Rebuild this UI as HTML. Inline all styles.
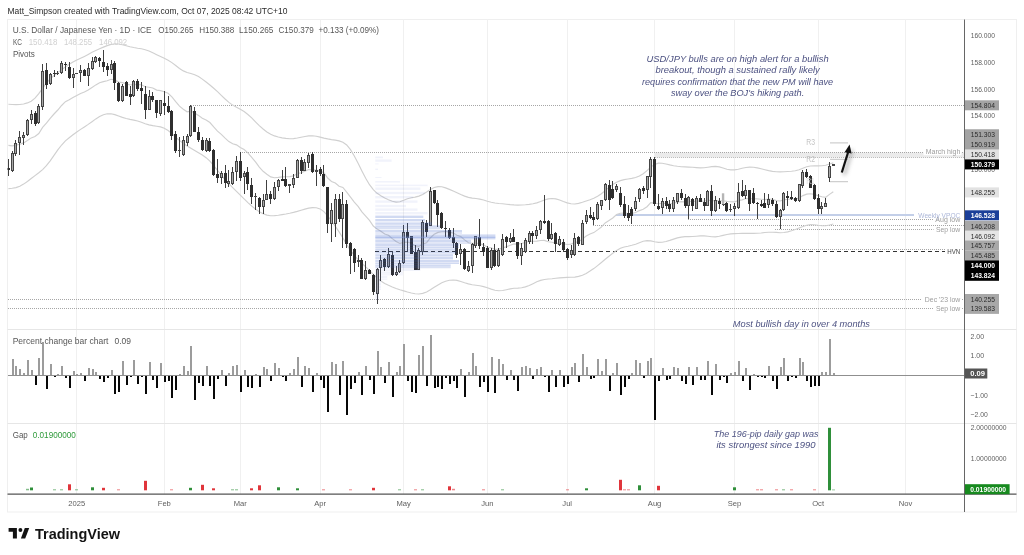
<!DOCTYPE html><html><head><meta charset="utf-8"><style>html,body{margin:0;padding:0;background:#fff;width:1024px;height:555px;overflow:hidden}svg{display:block}text{font-family:"Liberation Sans", Arial, sans-serif}</style></head><body>
<svg width="1024" height="555" viewBox="0 0 1024 555">
<rect width="1024" height="555" fill="#fff"/>
<text x="7.5" y="13.6" font-size="8.6" fill="#2a2a2a" textLength="280" lengthAdjust="spacingAndGlyphs">Matt_Simpson created with TradingView.com, Oct 07, 2025 08:42 UTC+10</text>
<rect x="7.5" y="19.5" width="1009.0" height="492.5" fill="none" stroke="#efefef" stroke-width="1"/>
<line x1="76.5" y1="19.5" x2="76.5" y2="494.2" stroke="#f0f0f0" stroke-width="1"/>
<line x1="164.5" y1="19.5" x2="164.5" y2="494.2" stroke="#f0f0f0" stroke-width="1"/>
<line x1="240.5" y1="19.5" x2="240.5" y2="494.2" stroke="#f0f0f0" stroke-width="1"/>
<line x1="320.5" y1="19.5" x2="320.5" y2="494.2" stroke="#f0f0f0" stroke-width="1"/>
<line x1="403.5" y1="19.5" x2="403.5" y2="494.2" stroke="#f0f0f0" stroke-width="1"/>
<line x1="487.5" y1="19.5" x2="487.5" y2="494.2" stroke="#f0f0f0" stroke-width="1"/>
<line x1="567.5" y1="19.5" x2="567.5" y2="494.2" stroke="#f0f0f0" stroke-width="1"/>
<line x1="654.5" y1="19.5" x2="654.5" y2="494.2" stroke="#f0f0f0" stroke-width="1"/>
<line x1="734.5" y1="19.5" x2="734.5" y2="494.2" stroke="#f0f0f0" stroke-width="1"/>
<line x1="818.5" y1="19.5" x2="818.5" y2="494.2" stroke="#f0f0f0" stroke-width="1"/>
<line x1="905.5" y1="19.5" x2="905.5" y2="494.2" stroke="#f0f0f0" stroke-width="1"/>
<line x1="7.5" y1="329.5" x2="1016.5" y2="329.5" stroke="#e6e6e6" stroke-width="1"/>
<line x1="7.5" y1="423.5" x2="1016.5" y2="423.5" stroke="#e6e6e6" stroke-width="1"/>
<defs><clipPath id="cm"><rect x="7.5" y="20" width="957" height="309"/></clipPath><filter id="blur1" x="-50%" y="-50%" width="200%" height="200%"><feGaussianBlur stdDeviation="2"/></filter></defs>
<g clip-path="url(#cm)">
<rect x="655" y="152.5" width="310" height="5" fill="#ebebeb"/>
<line x1="191" y1="105.5" x2="964" y2="105.5" stroke="#a6a6a6" stroke-width="1" stroke-dasharray="1 1"/>
<line x1="240" y1="152.5" x2="964" y2="152.5" stroke="#a6a6a6" stroke-width="1" stroke-dasharray="1 1"/>
<line x1="655" y1="157.5" x2="964" y2="157.5" stroke="#bdbdbd" stroke-width="1" stroke-dasharray="1 1"/>
<line x1="8" y1="299.5" x2="964" y2="299.5" stroke="#a6a6a6" stroke-width="1" stroke-dasharray="1 1"/>
<line x1="8" y1="308.5" x2="964" y2="308.5" stroke="#a6a6a6" stroke-width="1" stroke-dasharray="1 1"/>
<line x1="688" y1="219.5" x2="934" y2="219.5" stroke="#a6a6a6" stroke-width="1" stroke-dasharray="1 1"/>
<line x1="593" y1="225.5" x2="964" y2="225.5" stroke="#a6a6a6" stroke-width="1" stroke-dasharray="1 1"/>
<line x1="775" y1="229.5" x2="934" y2="229.5" stroke="#a6a6a6" stroke-width="1" stroke-dasharray="1 1"/>
<line x1="668" y1="249.5" x2="964" y2="249.5" stroke="#a6a6a6" stroke-width="1" stroke-dasharray="1 1"/>
<line x1="375" y1="251.5" x2="945" y2="251.5" stroke="#333" stroke-width="1" stroke-dasharray="4 3"/>
<line x1="616" y1="214.9" x2="914" y2="214.9" stroke="#c3cfe8" stroke-width="2"/>
<g fill="none" stroke="#d0d0d0" stroke-width="1.15">
<polyline points="8.4,104.3 12.2,104.5 16.0,104.6 19.8,104.5 23.6,104.0 27.4,102.9 31.2,101.2 35.0,98.2 38.8,93.7 42.6,88.3 46.4,83.0 50.2,78.8 54.0,75.5 57.8,72.6 61.6,69.8 65.4,66.9 69.2,64.3 73.0,62.1 76.8,60.1 80.6,58.3 84.4,56.4 88.2,54.4 92.0,52.3 95.8,50.5 99.6,48.7 103.4,47.1 107.2,45.6 111.0,44.5 114.8,43.9 118.6,44.0 122.4,44.7 126.2,45.7 130.0,46.7 133.8,47.5 137.6,48.2 141.4,48.8 145.2,49.7 149.0,51.0 152.8,52.8 156.7,54.7 160.5,56.5 164.3,58.3 168.1,60.2 171.9,62.6 175.7,65.5 179.5,68.5 183.3,70.9 187.1,72.5 190.9,73.5 194.7,74.7 198.5,76.6 202.3,79.1 206.1,82.0 209.9,85.0 213.7,88.2 217.5,91.6 221.3,95.3 225.1,99.0 228.9,102.4 232.7,105.1 236.5,107.3 240.3,109.3 244.1,111.6 247.9,114.5 251.7,117.9 255.5,121.8 259.3,125.6 263.1,129.0 266.9,131.9 270.7,134.2 274.5,135.9 278.3,137.0 282.1,137.9 285.9,138.4 289.7,138.7 293.5,138.6 297.3,138.0 301.1,137.2 304.9,136.5 308.7,135.9 312.5,135.8 316.3,136.2 320.1,137.1 323.9,138.1 327.7,138.9 331.5,139.6 335.3,140.1 339.1,140.9 342.9,142.2 346.7,145.0 350.5,149.6 354.3,156.0 358.1,163.3 361.9,170.9 365.7,178.2 369.5,184.7 373.3,189.7 377.1,193.3 380.9,195.8 384.7,197.9 388.5,199.7 392.3,201.2 396.1,202.1 399.9,201.7 403.7,200.3 407.5,198.8 411.3,197.7 415.1,197.1 418.9,196.1 422.7,194.4 426.6,192.0 430.4,189.5 434.2,187.5 438.0,186.6 441.8,186.8 445.6,187.9 449.4,189.4 453.2,191.1 457.0,192.8 460.8,194.5 464.6,196.1 468.4,197.4 472.2,198.1 476.0,198.5 479.8,199.1 483.6,200.0 487.4,201.2 491.2,202.2 495.0,203.0 498.8,203.5 502.6,203.8 506.4,204.2 510.2,204.6 514.0,204.9 517.8,205.1 521.6,205.0 525.4,204.8 529.2,204.4 533.0,203.8 536.8,202.9 540.6,201.5 544.4,200.0 548.2,198.9 552.0,198.5 555.8,198.9 559.6,200.0 563.4,201.5 567.2,202.9 571.0,203.8 574.8,204.0 578.6,203.4 582.4,202.3 586.2,201.0 590.0,199.7 593.8,198.2 597.6,196.3 601.4,193.7 605.2,190.6 609.0,187.4 612.8,184.5 616.6,182.2 620.4,180.6 624.2,179.6 628.0,179.0 631.8,178.4 635.6,177.5 639.4,176.0 643.2,173.8 647.0,170.6 650.8,167.1 654.6,164.4 658.4,163.1 662.2,163.2 666.0,164.0 669.8,164.9 673.6,165.7 677.4,166.3 681.2,166.7 685.0,166.9 688.8,167.1 692.6,167.3 696.4,167.6 700.3,167.9 704.1,167.8 707.9,167.2 711.7,166.6 715.5,166.4 719.3,166.9 723.1,168.0 726.9,169.2 730.7,169.9 734.5,169.9 738.3,169.2 742.1,168.3 745.9,167.5 749.7,167.2 753.5,167.3 757.3,167.9 761.1,168.8 764.9,169.7 768.7,170.6 772.5,171.4 776.3,171.8 780.1,171.9 783.9,171.7 787.7,171.5 791.5,171.3 795.3,170.8 799.1,169.7 802.9,168.2 806.7,166.8 810.5,166.0 814.3,165.8 818.1,165.9 821.9,165.8 825.7,165.2 829.5,164.0 833.3,162.9"/>
<polyline points="8.4,145.4 12.2,145.8 16.0,145.2 19.8,144.1 23.6,142.9 27.4,140.5 31.2,137.9 35.0,136.5 38.8,133.5 42.6,127.4 46.4,123.2 50.2,118.3 54.0,114.0 57.8,110.0 61.6,105.5 65.4,101.7 69.2,99.7 73.0,97.5 76.8,95.5 80.6,93.4 84.4,92.0 88.2,90.0 92.0,87.5 95.8,84.9 99.6,82.8 103.4,81.6 107.2,80.7 111.0,79.3 114.8,79.9 118.6,82.1 122.4,82.6 126.2,83.8 130.0,85.0 133.8,84.4 137.6,84.6 141.4,84.8 145.2,86.8 149.0,87.2 152.8,88.0 156.7,90.1 160.5,90.6 164.3,91.8 168.1,93.3 171.9,96.9 175.7,101.7 179.5,106.1 183.3,109.2 187.1,111.8 190.9,111.2 194.7,113.0 198.5,115.4 202.3,118.3 206.1,120.1 209.9,122.5 213.7,126.9 217.5,131.1 221.3,134.4 225.1,138.2 228.9,141.6 232.7,143.8 236.5,144.9 240.3,147.5 244.1,149.5 247.9,152.8 251.7,157.3 255.5,161.8 259.3,167.1 263.1,171.3 266.9,174.2 270.7,176.9 274.5,177.7 278.3,177.4 282.1,176.9 285.9,176.8 289.7,176.6 293.5,175.9 297.3,173.6 301.1,172.8 304.9,171.3 308.7,169.6 312.5,169.8 316.3,170.1 320.1,170.9 323.9,172.8 327.7,178.0 331.5,181.4 335.3,183.1 339.1,186.3 342.9,187.5 346.7,192.1 350.5,197.2 354.3,202.2 358.1,206.4 361.9,211.9 365.7,216.1 369.5,220.4 373.3,226.0 377.1,229.1 380.9,231.2 384.7,234.0 388.5,235.3 392.3,238.6 396.1,241.5 399.9,243.4 403.7,242.4 407.5,242.1 411.3,243.3 415.1,245.9 418.9,246.4 422.7,244.0 426.6,242.7 430.4,237.7 434.2,234.3 438.0,232.4 441.8,231.8 445.6,231.5 449.4,232.1 453.2,233.1 457.0,235.2 460.8,236.6 464.6,239.9 468.4,242.7 472.2,243.2 476.0,243.0 479.8,243.7 483.6,244.9 487.4,247.3 491.2,247.7 495.0,249.4 498.8,249.2 502.6,247.9 506.4,246.8 510.2,245.2 514.0,243.9 517.8,244.1 521.6,243.5 525.4,242.5 529.2,241.3 533.0,241.2 536.8,241.1 540.6,240.5 544.4,240.4 548.2,241.8 552.0,242.2 555.8,243.3 559.6,243.3 563.4,243.8 567.2,244.5 571.0,244.1 574.8,242.5 578.6,241.6 582.4,239.0 586.2,236.1 590.0,234.0 593.8,232.6 597.6,229.9 601.4,227.0 605.2,222.9 609.0,220.5 612.8,218.0 616.6,214.5 620.4,213.2 624.2,213.0 628.0,213.3 631.8,213.5 635.6,212.5 639.4,210.6 643.2,209.3 647.0,206.7 650.8,202.6 654.6,203.1 658.4,203.7 662.2,203.4 666.0,203.5 669.8,203.8 673.6,203.3 677.4,202.2 681.2,201.6 685.0,201.9 688.8,201.3 692.6,201.6 696.4,201.1 700.3,200.9 704.1,201.2 707.9,200.0 711.7,200.8 715.5,200.5 719.3,200.6 723.1,200.7 726.9,201.4 730.7,201.8 734.5,201.9 738.3,200.6 742.1,199.9 745.9,198.5 749.7,198.7 753.5,198.8 757.3,198.9 761.1,199.2 764.9,199.6 768.7,199.2 772.5,199.3 776.3,200.6 780.1,201.0 783.9,199.9 787.7,199.3 791.5,199.1 795.3,199.2 799.1,197.9 802.9,195.6 806.7,194.1 810.5,193.8 814.3,194.4 818.1,195.8 821.9,196.7 825.7,197.3 829.5,194.4 833.3,191.7"/>
<polyline points="8.4,188.6 12.2,188.3 16.0,187.6 19.8,186.2 23.6,184.1 27.4,181.5 31.2,178.5 35.0,175.6 38.8,172.7 42.6,169.6 46.4,165.7 50.2,160.8 54.0,155.4 57.8,149.9 61.6,145.0 65.4,140.9 69.2,137.7 73.0,134.8 76.8,132.0 80.6,129.4 84.4,126.9 88.2,124.4 92.0,121.7 95.8,118.9 99.6,116.5 103.4,114.7 107.2,113.8 111.0,113.8 114.8,114.6 118.6,116.0 122.4,117.4 126.2,118.5 130.0,119.4 133.8,120.1 137.6,121.0 141.4,122.3 145.2,123.7 149.0,124.9 152.8,125.6 156.7,126.2 160.5,126.9 164.3,128.3 168.1,130.5 171.9,133.6 175.7,137.1 179.5,140.5 183.3,143.4 187.1,145.9 190.9,148.2 194.7,150.5 198.5,152.7 202.3,155.0 206.1,157.7 209.9,161.2 213.7,165.6 217.5,170.4 221.3,175.1 225.1,179.6 228.9,183.7 232.7,187.6 236.5,191.4 240.3,195.2 244.1,198.9 247.9,202.6 251.7,206.0 255.5,209.1 259.3,211.7 263.1,213.8 266.9,215.1 270.7,215.7 274.5,215.6 278.3,215.2 282.1,214.6 285.9,214.0 289.7,213.3 293.5,212.4 297.3,211.4 301.1,210.2 304.9,209.1 308.7,208.1 312.5,207.6 316.3,207.7 320.1,208.9 323.9,211.6 327.7,215.9 331.5,221.0 335.3,226.3 339.1,231.9 342.9,238.0 346.7,244.4 350.5,250.3 354.3,255.4 358.1,259.6 361.9,263.4 365.7,266.9 369.5,270.5 373.3,274.3 377.1,277.9 380.9,281.0 384.7,283.4 388.5,285.3 392.3,287.0 396.1,288.5 399.9,289.8 403.7,290.9 407.5,292.0 411.3,293.0 415.1,293.8 418.9,294.0 422.7,293.4 426.6,292.0 430.4,289.8 434.2,287.3 438.0,284.9 441.8,282.8 445.6,281.2 449.4,280.2 453.2,280.0 457.0,280.4 460.8,281.5 464.6,282.8 468.4,283.9 472.2,284.7 476.0,285.2 479.8,285.7 483.6,286.6 487.4,287.8 491.2,289.1 495.0,290.2 498.8,290.7 502.6,290.5 506.4,289.7 510.2,288.9 514.0,288.3 517.8,288.1 521.6,287.8 525.4,286.9 529.2,285.5 533.0,283.7 536.8,281.8 540.6,280.4 544.4,279.5 548.2,279.0 552.0,278.7 555.8,278.3 559.6,277.9 563.4,277.6 567.2,277.4 571.0,277.3 574.8,277.1 578.6,276.4 582.4,275.2 586.2,273.4 590.0,271.1 593.8,268.6 597.6,265.6 601.4,262.5 605.2,259.3 609.0,256.2 612.8,253.2 616.6,250.4 620.4,248.3 624.2,247.0 628.0,246.2 631.8,245.3 635.6,244.2 639.4,242.7 643.2,241.3 647.0,240.6 650.8,240.9 654.6,241.8 658.4,242.4 662.2,242.2 666.0,241.5 669.8,240.4 673.6,239.1 677.4,237.9 681.2,237.1 685.0,236.6 688.8,236.6 692.6,236.5 696.4,236.2 700.3,235.9 704.1,235.9 707.9,236.2 711.7,236.7 715.5,236.8 719.3,236.3 723.1,235.4 726.9,234.5 730.7,233.9 734.5,233.6 738.3,233.5 742.1,233.4 745.9,233.3 749.7,233.4 753.5,233.4 757.3,233.3 761.1,233.0 764.9,232.5 768.7,232.2 772.5,232.2 776.3,232.4 780.1,232.7 783.9,232.5 787.7,231.9 791.5,230.8 795.3,229.5 799.1,228.0 802.9,226.5 806.7,225.3 810.5,224.7 814.3,224.8 818.1,225.3 821.9,225.7 825.7,225.7 829.5,225.0 833.3,224.0"/>
</g>
<line x1="8.5" y1="159" x2="8.5" y2="176" stroke="#404040" stroke-width="1"/>
<line x1="12.5" y1="151" x2="12.5" y2="172" stroke="#404040" stroke-width="1"/>
<line x1="15.5" y1="140" x2="15.5" y2="156" stroke="#404040" stroke-width="1"/>
<line x1="19.5" y1="131" x2="19.5" y2="155" stroke="#404040" stroke-width="1"/>
<line x1="23.5" y1="132" x2="23.5" y2="145" stroke="#404040" stroke-width="1"/>
<line x1="27.5" y1="119" x2="27.5" y2="136" stroke="#404040" stroke-width="1"/>
<line x1="31.5" y1="110" x2="31.5" y2="124" stroke="#404040" stroke-width="1"/>
<line x1="35.5" y1="111" x2="35.5" y2="126" stroke="#404040" stroke-width="1"/>
<line x1="38.5" y1="104" x2="38.5" y2="124" stroke="#404040" stroke-width="1"/>
<line x1="42.5" y1="64" x2="42.5" y2="110" stroke="#404040" stroke-width="1"/>
<line x1="46.5" y1="63" x2="46.5" y2="89" stroke="#404040" stroke-width="1"/>
<line x1="50.5" y1="73" x2="50.5" y2="85" stroke="#404040" stroke-width="1"/>
<line x1="54.5" y1="70" x2="54.5" y2="77" stroke="#404040" stroke-width="1"/>
<line x1="57.5" y1="71" x2="57.5" y2="75" stroke="#404040" stroke-width="1"/>
<line x1="61.5" y1="61" x2="61.5" y2="74" stroke="#404040" stroke-width="1"/>
<line x1="65.5" y1="62" x2="65.5" y2="71" stroke="#404040" stroke-width="1"/>
<line x1="69.5" y1="62" x2="69.5" y2="79" stroke="#404040" stroke-width="1"/>
<line x1="73.5" y1="68" x2="73.5" y2="88" stroke="#404040" stroke-width="1"/>
<line x1="76.5" y1="73" x2="76.5" y2="74" stroke="#404040" stroke-width="1"/>
<line x1="80.5" y1="65" x2="80.5" y2="82" stroke="#404040" stroke-width="1"/>
<line x1="84.5" y1="69" x2="84.5" y2="76" stroke="#404040" stroke-width="1"/>
<line x1="88.5" y1="63" x2="88.5" y2="86" stroke="#404040" stroke-width="1"/>
<line x1="92.5" y1="57" x2="92.5" y2="70" stroke="#404040" stroke-width="1"/>
<line x1="95.5" y1="56" x2="95.5" y2="63" stroke="#404040" stroke-width="1"/>
<line x1="99.5" y1="57" x2="99.5" y2="67" stroke="#404040" stroke-width="1"/>
<line x1="103.5" y1="50" x2="103.5" y2="72" stroke="#404040" stroke-width="1"/>
<line x1="107.5" y1="63" x2="107.5" y2="76" stroke="#404040" stroke-width="1"/>
<line x1="111.5" y1="60" x2="111.5" y2="74" stroke="#404040" stroke-width="1"/>
<line x1="114.5" y1="61" x2="114.5" y2="90" stroke="#404040" stroke-width="1"/>
<line x1="118.5" y1="82" x2="118.5" y2="102" stroke="#404040" stroke-width="1"/>
<line x1="122.5" y1="84" x2="122.5" y2="102" stroke="#404040" stroke-width="1"/>
<line x1="126.5" y1="81" x2="126.5" y2="96" stroke="#404040" stroke-width="1"/>
<line x1="130.5" y1="86" x2="130.5" y2="105" stroke="#404040" stroke-width="1"/>
<line x1="133.5" y1="80" x2="133.5" y2="97" stroke="#404040" stroke-width="1"/>
<line x1="137.5" y1="79" x2="137.5" y2="91" stroke="#404040" stroke-width="1"/>
<line x1="141.5" y1="82" x2="141.5" y2="104" stroke="#404040" stroke-width="1"/>
<line x1="145.5" y1="86" x2="145.5" y2="119" stroke="#404040" stroke-width="1"/>
<line x1="149.5" y1="90" x2="149.5" y2="110" stroke="#404040" stroke-width="1"/>
<line x1="152.5" y1="92" x2="152.5" y2="102" stroke="#404040" stroke-width="1"/>
<line x1="156.5" y1="100" x2="156.5" y2="118" stroke="#404040" stroke-width="1"/>
<line x1="160.5" y1="100" x2="160.5" y2="116" stroke="#404040" stroke-width="1"/>
<line x1="164.5" y1="91" x2="164.5" y2="115" stroke="#404040" stroke-width="1"/>
<line x1="168.5" y1="96" x2="168.5" y2="113" stroke="#404040" stroke-width="1"/>
<line x1="171.5" y1="110" x2="171.5" y2="140" stroke="#404040" stroke-width="1"/>
<line x1="175.5" y1="131" x2="175.5" y2="153" stroke="#404040" stroke-width="1"/>
<line x1="179.5" y1="137" x2="179.5" y2="157" stroke="#404040" stroke-width="1"/>
<line x1="183.5" y1="136" x2="183.5" y2="156" stroke="#404040" stroke-width="1"/>
<line x1="187.5" y1="134" x2="187.5" y2="146" stroke="#404040" stroke-width="1"/>
<line x1="190.5" y1="105" x2="190.5" y2="137" stroke="#404040" stroke-width="1"/>
<line x1="194.5" y1="107" x2="194.5" y2="132" stroke="#404040" stroke-width="1"/>
<line x1="198.5" y1="127" x2="198.5" y2="142" stroke="#404040" stroke-width="1"/>
<line x1="202.5" y1="137" x2="202.5" y2="151" stroke="#404040" stroke-width="1"/>
<line x1="206.5" y1="138" x2="206.5" y2="152" stroke="#404040" stroke-width="1"/>
<line x1="209.5" y1="138" x2="209.5" y2="152" stroke="#404040" stroke-width="1"/>
<line x1="213.5" y1="149" x2="213.5" y2="176" stroke="#404040" stroke-width="1"/>
<line x1="217.5" y1="159" x2="217.5" y2="183" stroke="#404040" stroke-width="1"/>
<line x1="221.5" y1="171" x2="221.5" y2="184" stroke="#404040" stroke-width="1"/>
<line x1="225.5" y1="165" x2="225.5" y2="188" stroke="#404040" stroke-width="1"/>
<line x1="228.5" y1="170" x2="228.5" y2="187" stroke="#404040" stroke-width="1"/>
<line x1="232.5" y1="167" x2="232.5" y2="185" stroke="#404040" stroke-width="1"/>
<line x1="236.5" y1="156" x2="236.5" y2="181" stroke="#404040" stroke-width="1"/>
<line x1="240.5" y1="152" x2="240.5" y2="181" stroke="#404040" stroke-width="1"/>
<line x1="244.5" y1="171" x2="244.5" y2="194" stroke="#404040" stroke-width="1"/>
<line x1="247.5" y1="167" x2="247.5" y2="190" stroke="#404040" stroke-width="1"/>
<line x1="251.5" y1="178" x2="251.5" y2="204" stroke="#404040" stroke-width="1"/>
<line x1="255.5" y1="193" x2="255.5" y2="210" stroke="#404040" stroke-width="1"/>
<line x1="259.5" y1="197" x2="259.5" y2="214" stroke="#404040" stroke-width="1"/>
<line x1="263.5" y1="194" x2="263.5" y2="214" stroke="#404040" stroke-width="1"/>
<line x1="266.5" y1="180" x2="266.5" y2="200" stroke="#404040" stroke-width="1"/>
<line x1="270.5" y1="191" x2="270.5" y2="204" stroke="#404040" stroke-width="1"/>
<line x1="274.5" y1="182" x2="274.5" y2="200" stroke="#404040" stroke-width="1"/>
<line x1="278.5" y1="179" x2="278.5" y2="191" stroke="#404040" stroke-width="1"/>
<line x1="282.5" y1="170" x2="282.5" y2="181" stroke="#404040" stroke-width="1"/>
<line x1="285.5" y1="167" x2="285.5" y2="187" stroke="#404040" stroke-width="1"/>
<line x1="289.5" y1="184" x2="289.5" y2="193" stroke="#404040" stroke-width="1"/>
<line x1="293.5" y1="174" x2="293.5" y2="188" stroke="#404040" stroke-width="1"/>
<line x1="297.5" y1="159" x2="297.5" y2="178" stroke="#404040" stroke-width="1"/>
<line x1="301.5" y1="157" x2="301.5" y2="174" stroke="#404040" stroke-width="1"/>
<line x1="304.5" y1="159" x2="304.5" y2="171" stroke="#404040" stroke-width="1"/>
<line x1="308.5" y1="153" x2="308.5" y2="168" stroke="#404040" stroke-width="1"/>
<line x1="312.5" y1="152" x2="312.5" y2="173" stroke="#404040" stroke-width="1"/>
<line x1="316.5" y1="165" x2="316.5" y2="186" stroke="#404040" stroke-width="1"/>
<line x1="320.5" y1="167" x2="320.5" y2="176" stroke="#404040" stroke-width="1"/>
<line x1="323.5" y1="165" x2="323.5" y2="187" stroke="#404040" stroke-width="1"/>
<line x1="327.5" y1="187" x2="327.5" y2="233" stroke="#404040" stroke-width="1"/>
<line x1="331.5" y1="203" x2="331.5" y2="242" stroke="#404040" stroke-width="1"/>
<line x1="335.5" y1="194" x2="335.5" y2="237" stroke="#404040" stroke-width="1"/>
<line x1="339.5" y1="194" x2="339.5" y2="222" stroke="#404040" stroke-width="1"/>
<line x1="342.5" y1="192" x2="342.5" y2="248" stroke="#404040" stroke-width="1"/>
<line x1="346.5" y1="200" x2="346.5" y2="248" stroke="#404040" stroke-width="1"/>
<line x1="350.5" y1="242" x2="350.5" y2="274" stroke="#404040" stroke-width="1"/>
<line x1="354.5" y1="248" x2="354.5" y2="272" stroke="#404040" stroke-width="1"/>
<line x1="358.5" y1="255" x2="358.5" y2="267" stroke="#404040" stroke-width="1"/>
<line x1="361.5" y1="258" x2="361.5" y2="279" stroke="#404040" stroke-width="1"/>
<line x1="365.5" y1="261" x2="365.5" y2="280" stroke="#404040" stroke-width="1"/>
<line x1="369.5" y1="269" x2="369.5" y2="274" stroke="#404040" stroke-width="1"/>
<line x1="373.5" y1="274" x2="373.5" y2="295" stroke="#404040" stroke-width="1"/>
<line x1="377.5" y1="268" x2="377.5" y2="304" stroke="#404040" stroke-width="1"/>
<line x1="380.5" y1="255" x2="380.5" y2="281" stroke="#404040" stroke-width="1"/>
<line x1="384.5" y1="258" x2="384.5" y2="271" stroke="#404040" stroke-width="1"/>
<line x1="388.5" y1="248" x2="388.5" y2="268" stroke="#404040" stroke-width="1"/>
<line x1="392.5" y1="251" x2="392.5" y2="276" stroke="#404040" stroke-width="1"/>
<line x1="396.5" y1="266" x2="396.5" y2="276" stroke="#404040" stroke-width="1"/>
<line x1="399.5" y1="260" x2="399.5" y2="273" stroke="#404040" stroke-width="1"/>
<line x1="403.5" y1="225" x2="403.5" y2="264" stroke="#404040" stroke-width="1"/>
<line x1="407.5" y1="223" x2="407.5" y2="252" stroke="#404040" stroke-width="1"/>
<line x1="411.5" y1="236" x2="411.5" y2="254" stroke="#404040" stroke-width="1"/>
<line x1="415.5" y1="245" x2="415.5" y2="270" stroke="#404040" stroke-width="1"/>
<line x1="418.5" y1="248" x2="418.5" y2="270" stroke="#404040" stroke-width="1"/>
<line x1="422.5" y1="220" x2="422.5" y2="255" stroke="#404040" stroke-width="1"/>
<line x1="426.5" y1="220" x2="426.5" y2="237" stroke="#404040" stroke-width="1"/>
<line x1="430.5" y1="187" x2="430.5" y2="226" stroke="#404040" stroke-width="1"/>
<line x1="434.5" y1="190" x2="434.5" y2="204" stroke="#404040" stroke-width="1"/>
<line x1="437.5" y1="200" x2="437.5" y2="227" stroke="#404040" stroke-width="1"/>
<line x1="441.5" y1="212" x2="441.5" y2="229" stroke="#404040" stroke-width="1"/>
<line x1="445.5" y1="221" x2="445.5" y2="237" stroke="#404040" stroke-width="1"/>
<line x1="449.5" y1="228" x2="449.5" y2="239" stroke="#404040" stroke-width="1"/>
<line x1="453.5" y1="228" x2="453.5" y2="248" stroke="#404040" stroke-width="1"/>
<line x1="456.5" y1="242" x2="456.5" y2="258" stroke="#404040" stroke-width="1"/>
<line x1="460.5" y1="244" x2="460.5" y2="265" stroke="#404040" stroke-width="1"/>
<line x1="464.5" y1="248" x2="464.5" y2="270" stroke="#404040" stroke-width="1"/>
<line x1="468.5" y1="261" x2="468.5" y2="272" stroke="#404040" stroke-width="1"/>
<line x1="472.5" y1="243" x2="472.5" y2="273" stroke="#404040" stroke-width="1"/>
<line x1="475.5" y1="236" x2="475.5" y2="248" stroke="#404040" stroke-width="1"/>
<line x1="479.5" y1="219" x2="479.5" y2="249" stroke="#404040" stroke-width="1"/>
<line x1="483.5" y1="243" x2="483.5" y2="256" stroke="#404040" stroke-width="1"/>
<line x1="487.5" y1="246" x2="487.5" y2="268" stroke="#404040" stroke-width="1"/>
<line x1="491.5" y1="248" x2="491.5" y2="270" stroke="#404040" stroke-width="1"/>
<line x1="494.5" y1="244" x2="494.5" y2="267" stroke="#404040" stroke-width="1"/>
<line x1="498.5" y1="248" x2="498.5" y2="267" stroke="#404040" stroke-width="1"/>
<line x1="502.5" y1="234" x2="502.5" y2="256" stroke="#404040" stroke-width="1"/>
<line x1="506.5" y1="236" x2="506.5" y2="248" stroke="#404040" stroke-width="1"/>
<line x1="510.5" y1="233" x2="510.5" y2="243" stroke="#404040" stroke-width="1"/>
<line x1="513.5" y1="229" x2="513.5" y2="242" stroke="#404040" stroke-width="1"/>
<line x1="517.5" y1="242" x2="517.5" y2="259" stroke="#404040" stroke-width="1"/>
<line x1="521.5" y1="243" x2="521.5" y2="265" stroke="#404040" stroke-width="1"/>
<line x1="525.5" y1="238" x2="525.5" y2="253" stroke="#404040" stroke-width="1"/>
<line x1="529.5" y1="231" x2="529.5" y2="244" stroke="#404040" stroke-width="1"/>
<line x1="532.5" y1="231" x2="532.5" y2="244" stroke="#404040" stroke-width="1"/>
<line x1="536.5" y1="226" x2="536.5" y2="239" stroke="#404040" stroke-width="1"/>
<line x1="540.5" y1="220" x2="540.5" y2="234" stroke="#404040" stroke-width="1"/>
<line x1="544.5" y1="195" x2="544.5" y2="224" stroke="#404040" stroke-width="1"/>
<line x1="548.5" y1="220" x2="548.5" y2="241" stroke="#404040" stroke-width="1"/>
<line x1="551.5" y1="223" x2="551.5" y2="240" stroke="#404040" stroke-width="1"/>
<line x1="555.5" y1="232" x2="555.5" y2="252" stroke="#404040" stroke-width="1"/>
<line x1="559.5" y1="236" x2="559.5" y2="246" stroke="#404040" stroke-width="1"/>
<line x1="563.5" y1="239" x2="563.5" y2="252" stroke="#404040" stroke-width="1"/>
<line x1="567.5" y1="248" x2="567.5" y2="260" stroke="#404040" stroke-width="1"/>
<line x1="571.5" y1="245" x2="571.5" y2="258" stroke="#404040" stroke-width="1"/>
<line x1="574.5" y1="233" x2="574.5" y2="256" stroke="#404040" stroke-width="1"/>
<line x1="578.5" y1="236" x2="578.5" y2="246" stroke="#404040" stroke-width="1"/>
<line x1="582.5" y1="220" x2="582.5" y2="245" stroke="#404040" stroke-width="1"/>
<line x1="586.5" y1="210" x2="586.5" y2="224" stroke="#404040" stroke-width="1"/>
<line x1="590.5" y1="207" x2="590.5" y2="219" stroke="#404040" stroke-width="1"/>
<line x1="593.5" y1="212" x2="593.5" y2="225" stroke="#404040" stroke-width="1"/>
<line x1="597.5" y1="202" x2="597.5" y2="220" stroke="#404040" stroke-width="1"/>
<line x1="601.5" y1="200" x2="601.5" y2="210" stroke="#404040" stroke-width="1"/>
<line x1="605.5" y1="183" x2="605.5" y2="201" stroke="#404040" stroke-width="1"/>
<line x1="609.5" y1="180" x2="609.5" y2="210" stroke="#404040" stroke-width="1"/>
<line x1="612.5" y1="181" x2="612.5" y2="199" stroke="#404040" stroke-width="1"/>
<line x1="616.5" y1="184" x2="616.5" y2="192" stroke="#404040" stroke-width="1"/>
<line x1="620.5" y1="187" x2="620.5" y2="207" stroke="#404040" stroke-width="1"/>
<line x1="624.5" y1="196" x2="624.5" y2="218" stroke="#404040" stroke-width="1"/>
<line x1="628.5" y1="205" x2="628.5" y2="221" stroke="#404040" stroke-width="1"/>
<line x1="631.5" y1="207" x2="631.5" y2="224" stroke="#404040" stroke-width="1"/>
<line x1="635.5" y1="197" x2="635.5" y2="211" stroke="#404040" stroke-width="1"/>
<line x1="639.5" y1="188" x2="639.5" y2="202" stroke="#404040" stroke-width="1"/>
<line x1="643.5" y1="186" x2="643.5" y2="194" stroke="#404040" stroke-width="1"/>
<line x1="647.5" y1="176" x2="647.5" y2="198" stroke="#404040" stroke-width="1"/>
<line x1="650.5" y1="157" x2="650.5" y2="188" stroke="#404040" stroke-width="1"/>
<line x1="654.5" y1="157" x2="654.5" y2="206" stroke="#404040" stroke-width="1"/>
<line x1="658.5" y1="194" x2="658.5" y2="210" stroke="#404040" stroke-width="1"/>
<line x1="662.5" y1="198" x2="662.5" y2="214" stroke="#404040" stroke-width="1"/>
<line x1="666.5" y1="197" x2="666.5" y2="209" stroke="#404040" stroke-width="1"/>
<line x1="669.5" y1="200" x2="669.5" y2="212" stroke="#404040" stroke-width="1"/>
<line x1="673.5" y1="197" x2="673.5" y2="212" stroke="#404040" stroke-width="1"/>
<line x1="677.5" y1="193" x2="677.5" y2="204" stroke="#404040" stroke-width="1"/>
<line x1="681.5" y1="189" x2="681.5" y2="200" stroke="#404040" stroke-width="1"/>
<line x1="685.5" y1="194" x2="685.5" y2="208" stroke="#404040" stroke-width="1"/>
<line x1="688.5" y1="196" x2="688.5" y2="219" stroke="#404040" stroke-width="1"/>
<line x1="692.5" y1="198" x2="692.5" y2="211" stroke="#404040" stroke-width="1"/>
<line x1="696.5" y1="196" x2="696.5" y2="209" stroke="#404040" stroke-width="1"/>
<line x1="700.5" y1="194" x2="700.5" y2="202" stroke="#404040" stroke-width="1"/>
<line x1="704.5" y1="198" x2="704.5" y2="211" stroke="#404040" stroke-width="1"/>
<line x1="707.5" y1="190" x2="707.5" y2="206" stroke="#404040" stroke-width="1"/>
<line x1="711.5" y1="185" x2="711.5" y2="216" stroke="#404040" stroke-width="1"/>
<line x1="715.5" y1="196" x2="715.5" y2="212" stroke="#404040" stroke-width="1"/>
<line x1="719.5" y1="198" x2="719.5" y2="209" stroke="#404040" stroke-width="1"/>
<line x1="723.5" y1="202" x2="723.5" y2="206" stroke="#404040" stroke-width="1"/>
<line x1="726.5" y1="202" x2="726.5" y2="212" stroke="#404040" stroke-width="1"/>
<line x1="730.5" y1="204" x2="730.5" y2="212" stroke="#404040" stroke-width="1"/>
<line x1="734.5" y1="203" x2="734.5" y2="216" stroke="#404040" stroke-width="1"/>
<line x1="738.5" y1="183" x2="738.5" y2="209" stroke="#404040" stroke-width="1"/>
<line x1="742.5" y1="180" x2="742.5" y2="197" stroke="#404040" stroke-width="1"/>
<line x1="745.5" y1="185" x2="745.5" y2="199" stroke="#404040" stroke-width="1"/>
<line x1="749.5" y1="190" x2="749.5" y2="211" stroke="#404040" stroke-width="1"/>
<line x1="753.5" y1="188" x2="753.5" y2="204" stroke="#404040" stroke-width="1"/>
<line x1="757.5" y1="202" x2="757.5" y2="219" stroke="#404040" stroke-width="1"/>
<line x1="761.5" y1="200" x2="761.5" y2="207" stroke="#404040" stroke-width="1"/>
<line x1="764.5" y1="193" x2="764.5" y2="208" stroke="#404040" stroke-width="1"/>
<line x1="768.5" y1="194" x2="768.5" y2="208" stroke="#404040" stroke-width="1"/>
<line x1="772.5" y1="198" x2="772.5" y2="206" stroke="#404040" stroke-width="1"/>
<line x1="776.5" y1="201" x2="776.5" y2="218" stroke="#404040" stroke-width="1"/>
<line x1="780.5" y1="209" x2="780.5" y2="229" stroke="#404040" stroke-width="1"/>
<line x1="783.5" y1="192" x2="783.5" y2="211" stroke="#404040" stroke-width="1"/>
<line x1="787.5" y1="191" x2="787.5" y2="206" stroke="#404040" stroke-width="1"/>
<line x1="791.5" y1="191" x2="791.5" y2="200" stroke="#404040" stroke-width="1"/>
<line x1="795.5" y1="197" x2="795.5" y2="202" stroke="#404040" stroke-width="1"/>
<line x1="799.5" y1="184" x2="799.5" y2="202" stroke="#404040" stroke-width="1"/>
<line x1="802.5" y1="170" x2="802.5" y2="188" stroke="#404040" stroke-width="1"/>
<line x1="806.5" y1="169" x2="806.5" y2="178" stroke="#404040" stroke-width="1"/>
<line x1="810.5" y1="175" x2="810.5" y2="188" stroke="#404040" stroke-width="1"/>
<line x1="814.5" y1="184" x2="814.5" y2="200" stroke="#404040" stroke-width="1"/>
<line x1="818.5" y1="194" x2="818.5" y2="214" stroke="#404040" stroke-width="1"/>
<line x1="821.5" y1="202" x2="821.5" y2="214" stroke="#404040" stroke-width="1"/>
<line x1="825.5" y1="198" x2="825.5" y2="207" stroke="#404040" stroke-width="1"/>
<line x1="829.5" y1="162" x2="829.5" y2="182" stroke="#404040" stroke-width="1"/>
<line x1="833.5" y1="164" x2="833.5" y2="166" stroke="#404040" stroke-width="1"/>
<rect x="7" y="168" width="3" height="2" fill="#2e2e2e"/>
<rect x="11" y="153" width="3" height="18" fill="#454545"/>
<rect x="12" y="154" width="1" height="16" fill="#a8a8a8"/>
<rect x="14" y="143" width="3" height="11" fill="#454545"/>
<rect x="15" y="144" width="1" height="9" fill="#a8a8a8"/>
<rect x="18" y="137" width="3" height="6" fill="#454545"/>
<rect x="19" y="138" width="1" height="4" fill="#a8a8a8"/>
<rect x="22" y="135" width="3" height="3" fill="#454545"/>
<rect x="23" y="136" width="1" height="1" fill="#a8a8a8"/>
<rect x="26" y="120" width="3" height="15" fill="#454545"/>
<rect x="27" y="121" width="1" height="13" fill="#a8a8a8"/>
<rect x="30" y="114" width="3" height="6" fill="#454545"/>
<rect x="31" y="115" width="1" height="4" fill="#a8a8a8"/>
<rect x="34" y="113" width="3" height="11" fill="#2e2e2e"/>
<rect x="37" y="106" width="3" height="17" fill="#454545"/>
<rect x="38" y="107" width="1" height="15" fill="#a8a8a8"/>
<rect x="41" y="71" width="3" height="36" fill="#454545"/>
<rect x="42" y="72" width="1" height="34" fill="#a8a8a8"/>
<rect x="45" y="70" width="3" height="15" fill="#2e2e2e"/>
<rect x="49" y="74" width="3" height="10" fill="#454545"/>
<rect x="50" y="75" width="1" height="8" fill="#a8a8a8"/>
<rect x="53" y="73" width="3" height="1" fill="#2e2e2e"/>
<rect x="56" y="73" width="3" height="1" fill="#454545"/>
<rect x="60" y="63" width="3" height="10" fill="#454545"/>
<rect x="61" y="64" width="1" height="8" fill="#a8a8a8"/>
<rect x="64" y="64" width="3" height="1" fill="#2e2e2e"/>
<rect x="68" y="67" width="3" height="11" fill="#2e2e2e"/>
<rect x="72" y="74" width="3" height="4" fill="#454545"/>
<rect x="73" y="75" width="1" height="2" fill="#a8a8a8"/>
<rect x="75" y="73" width="3" height="1" fill="#454545"/>
<rect x="79" y="70" width="3" height="3" fill="#454545"/>
<rect x="80" y="71" width="1" height="1" fill="#a8a8a8"/>
<rect x="83" y="70" width="3" height="6" fill="#2e2e2e"/>
<rect x="87" y="68" width="3" height="8" fill="#454545"/>
<rect x="88" y="69" width="1" height="6" fill="#a8a8a8"/>
<rect x="91" y="61" width="3" height="8" fill="#454545"/>
<rect x="92" y="62" width="1" height="6" fill="#a8a8a8"/>
<rect x="94" y="57" width="3" height="5" fill="#454545"/>
<rect x="95" y="58" width="1" height="3" fill="#a8a8a8"/>
<rect x="98" y="58" width="3" height="3" fill="#2e2e2e"/>
<rect x="102" y="62" width="3" height="5" fill="#2e2e2e"/>
<rect x="106" y="66" width="3" height="4" fill="#2e2e2e"/>
<rect x="110" y="64" width="3" height="6" fill="#454545"/>
<rect x="111" y="65" width="1" height="4" fill="#a8a8a8"/>
<rect x="113" y="63" width="3" height="20" fill="#2e2e2e"/>
<rect x="117" y="83" width="3" height="18" fill="#2e2e2e"/>
<rect x="121" y="86" width="3" height="15" fill="#454545"/>
<rect x="122" y="87" width="1" height="13" fill="#a8a8a8"/>
<rect x="125" y="82" width="3" height="14" fill="#2e2e2e"/>
<rect x="129" y="94" width="3" height="3" fill="#2e2e2e"/>
<rect x="132" y="81" width="3" height="15" fill="#454545"/>
<rect x="133" y="82" width="1" height="13" fill="#a8a8a8"/>
<rect x="136" y="81" width="3" height="8" fill="#2e2e2e"/>
<rect x="140" y="88" width="3" height="3" fill="#2e2e2e"/>
<rect x="144" y="94" width="3" height="16" fill="#2e2e2e"/>
<rect x="148" y="96" width="3" height="14" fill="#454545"/>
<rect x="149" y="97" width="1" height="12" fill="#a8a8a8"/>
<rect x="151" y="96" width="3" height="4" fill="#2e2e2e"/>
<rect x="155" y="100" width="3" height="13" fill="#2e2e2e"/>
<rect x="159" y="100" width="3" height="14" fill="#454545"/>
<rect x="160" y="101" width="1" height="12" fill="#a8a8a8"/>
<rect x="163" y="103" width="3" height="3" fill="#2e2e2e"/>
<rect x="167" y="106" width="3" height="6" fill="#2e2e2e"/>
<rect x="170" y="111" width="3" height="25" fill="#2e2e2e"/>
<rect x="174" y="134" width="3" height="17" fill="#2e2e2e"/>
<rect x="178" y="150" width="3" height="1" fill="#454545"/>
<rect x="182" y="140" width="3" height="15" fill="#454545"/>
<rect x="183" y="141" width="1" height="13" fill="#a8a8a8"/>
<rect x="186" y="136" width="3" height="7" fill="#454545"/>
<rect x="187" y="137" width="1" height="5" fill="#a8a8a8"/>
<rect x="189" y="106" width="3" height="30" fill="#454545"/>
<rect x="190" y="107" width="1" height="28" fill="#a8a8a8"/>
<rect x="193" y="111" width="3" height="21" fill="#2e2e2e"/>
<rect x="197" y="132" width="3" height="8" fill="#2e2e2e"/>
<rect x="201" y="140" width="3" height="10" fill="#2e2e2e"/>
<rect x="205" y="140" width="3" height="11" fill="#454545"/>
<rect x="206" y="141" width="1" height="9" fill="#a8a8a8"/>
<rect x="208" y="141" width="3" height="10" fill="#2e2e2e"/>
<rect x="212" y="150" width="3" height="25" fill="#2e2e2e"/>
<rect x="216" y="174" width="3" height="4" fill="#2e2e2e"/>
<rect x="220" y="173" width="3" height="5" fill="#454545"/>
<rect x="221" y="174" width="1" height="3" fill="#a8a8a8"/>
<rect x="224" y="173" width="3" height="10" fill="#2e2e2e"/>
<rect x="227" y="181" width="3" height="3" fill="#454545"/>
<rect x="228" y="182" width="1" height="1" fill="#a8a8a8"/>
<rect x="231" y="172" width="3" height="12" fill="#454545"/>
<rect x="232" y="173" width="1" height="10" fill="#a8a8a8"/>
<rect x="235" y="161" width="3" height="11" fill="#454545"/>
<rect x="236" y="162" width="1" height="9" fill="#a8a8a8"/>
<rect x="239" y="161" width="3" height="17" fill="#2e2e2e"/>
<rect x="243" y="173" width="3" height="4" fill="#454545"/>
<rect x="244" y="174" width="1" height="2" fill="#a8a8a8"/>
<rect x="246" y="172" width="3" height="12" fill="#2e2e2e"/>
<rect x="250" y="185" width="3" height="12" fill="#2e2e2e"/>
<rect x="254" y="196" width="3" height="1" fill="#454545"/>
<rect x="258" y="198" width="3" height="9" fill="#2e2e2e"/>
<rect x="262" y="200" width="3" height="7" fill="#454545"/>
<rect x="263" y="201" width="1" height="5" fill="#a8a8a8"/>
<rect x="265" y="194" width="3" height="6" fill="#454545"/>
<rect x="266" y="195" width="1" height="4" fill="#a8a8a8"/>
<rect x="269" y="194" width="3" height="5" fill="#2e2e2e"/>
<rect x="273" y="187" width="3" height="12" fill="#454545"/>
<rect x="274" y="188" width="1" height="10" fill="#a8a8a8"/>
<rect x="277" y="180" width="3" height="7" fill="#454545"/>
<rect x="278" y="181" width="1" height="5" fill="#a8a8a8"/>
<rect x="281" y="179" width="3" height="2" fill="#2e2e2e"/>
<rect x="284" y="179" width="3" height="7" fill="#2e2e2e"/>
<rect x="288" y="184" width="3" height="2" fill="#454545"/>
<rect x="292" y="178" width="3" height="7" fill="#454545"/>
<rect x="293" y="179" width="1" height="5" fill="#a8a8a8"/>
<rect x="296" y="160" width="3" height="18" fill="#454545"/>
<rect x="297" y="161" width="1" height="16" fill="#a8a8a8"/>
<rect x="300" y="160" width="3" height="11" fill="#2e2e2e"/>
<rect x="303" y="162" width="3" height="9" fill="#454545"/>
<rect x="304" y="163" width="1" height="7" fill="#a8a8a8"/>
<rect x="307" y="155" width="3" height="8" fill="#454545"/>
<rect x="308" y="156" width="1" height="6" fill="#a8a8a8"/>
<rect x="311" y="154" width="3" height="18" fill="#2e2e2e"/>
<rect x="315" y="170" width="3" height="2" fill="#454545"/>
<rect x="319" y="169" width="3" height="5" fill="#2e2e2e"/>
<rect x="322" y="174" width="3" height="12" fill="#2e2e2e"/>
<rect x="326" y="187" width="3" height="37" fill="#2e2e2e"/>
<rect x="330" y="210" width="3" height="14" fill="#454545"/>
<rect x="331" y="211" width="1" height="12" fill="#a8a8a8"/>
<rect x="334" y="199" width="3" height="25" fill="#454545"/>
<rect x="335" y="200" width="1" height="23" fill="#a8a8a8"/>
<rect x="338" y="199" width="3" height="20" fill="#2e2e2e"/>
<rect x="341" y="204" width="3" height="15" fill="#454545"/>
<rect x="342" y="205" width="1" height="13" fill="#a8a8a8"/>
<rect x="345" y="204" width="3" height="40" fill="#2e2e2e"/>
<rect x="349" y="243" width="3" height="13" fill="#2e2e2e"/>
<rect x="353" y="249" width="3" height="14" fill="#2e2e2e"/>
<rect x="357" y="260" width="3" height="2" fill="#454545"/>
<rect x="360" y="260" width="3" height="19" fill="#2e2e2e"/>
<rect x="364" y="270" width="3" height="9" fill="#454545"/>
<rect x="365" y="271" width="1" height="7" fill="#a8a8a8"/>
<rect x="368" y="270" width="3" height="4" fill="#2e2e2e"/>
<rect x="372" y="275" width="3" height="17" fill="#2e2e2e"/>
<rect x="376" y="269" width="3" height="25" fill="#454545"/>
<rect x="377" y="270" width="1" height="23" fill="#a8a8a8"/>
<rect x="379" y="260" width="3" height="8" fill="#454545"/>
<rect x="380" y="261" width="1" height="6" fill="#a8a8a8"/>
<rect x="383" y="259" width="3" height="8" fill="#2e2e2e"/>
<rect x="387" y="254" width="3" height="13" fill="#454545"/>
<rect x="388" y="255" width="1" height="11" fill="#a8a8a8"/>
<rect x="391" y="255" width="3" height="20" fill="#2e2e2e"/>
<rect x="395" y="272" width="3" height="3" fill="#454545"/>
<rect x="396" y="273" width="1" height="1" fill="#a8a8a8"/>
<rect x="398" y="263" width="3" height="9" fill="#454545"/>
<rect x="399" y="264" width="1" height="7" fill="#a8a8a8"/>
<rect x="402" y="232" width="3" height="31" fill="#454545"/>
<rect x="403" y="233" width="1" height="29" fill="#a8a8a8"/>
<rect x="406" y="232" width="3" height="6" fill="#2e2e2e"/>
<rect x="410" y="236" width="3" height="18" fill="#2e2e2e"/>
<rect x="414" y="252" width="3" height="18" fill="#2e2e2e"/>
<rect x="417" y="250" width="3" height="20" fill="#454545"/>
<rect x="418" y="251" width="1" height="18" fill="#a8a8a8"/>
<rect x="421" y="222" width="3" height="30" fill="#454545"/>
<rect x="422" y="223" width="1" height="28" fill="#a8a8a8"/>
<rect x="425" y="223" width="3" height="9" fill="#2e2e2e"/>
<rect x="429" y="191" width="3" height="35" fill="#454545"/>
<rect x="430" y="192" width="1" height="33" fill="#a8a8a8"/>
<rect x="433" y="190" width="3" height="13" fill="#2e2e2e"/>
<rect x="436" y="203" width="3" height="12" fill="#2e2e2e"/>
<rect x="440" y="213" width="3" height="15" fill="#2e2e2e"/>
<rect x="444" y="228" width="3" height="1" fill="#2e2e2e"/>
<rect x="448" y="230" width="3" height="8" fill="#2e2e2e"/>
<rect x="452" y="237" width="3" height="6" fill="#2e2e2e"/>
<rect x="455" y="243" width="3" height="12" fill="#2e2e2e"/>
<rect x="459" y="249" width="3" height="5" fill="#454545"/>
<rect x="460" y="250" width="1" height="3" fill="#a8a8a8"/>
<rect x="463" y="249" width="3" height="20" fill="#2e2e2e"/>
<rect x="467" y="266" width="3" height="5" fill="#454545"/>
<rect x="468" y="267" width="1" height="3" fill="#a8a8a8"/>
<rect x="471" y="244" width="3" height="22" fill="#454545"/>
<rect x="472" y="245" width="1" height="20" fill="#a8a8a8"/>
<rect x="474" y="236" width="3" height="10" fill="#454545"/>
<rect x="475" y="237" width="1" height="8" fill="#a8a8a8"/>
<rect x="478" y="237" width="3" height="9" fill="#2e2e2e"/>
<rect x="482" y="247" width="3" height="5" fill="#2e2e2e"/>
<rect x="486" y="248" width="3" height="20" fill="#2e2e2e"/>
<rect x="490" y="250" width="3" height="18" fill="#454545"/>
<rect x="491" y="251" width="1" height="16" fill="#a8a8a8"/>
<rect x="493" y="250" width="3" height="16" fill="#2e2e2e"/>
<rect x="497" y="250" width="3" height="16" fill="#454545"/>
<rect x="498" y="251" width="1" height="14" fill="#a8a8a8"/>
<rect x="501" y="239" width="3" height="16" fill="#454545"/>
<rect x="502" y="240" width="1" height="14" fill="#a8a8a8"/>
<rect x="505" y="237" width="3" height="5" fill="#2e2e2e"/>
<rect x="509" y="238" width="3" height="4" fill="#454545"/>
<rect x="510" y="239" width="1" height="2" fill="#a8a8a8"/>
<rect x="512" y="237" width="3" height="5" fill="#2e2e2e"/>
<rect x="516" y="242" width="3" height="14" fill="#2e2e2e"/>
<rect x="520" y="248" width="3" height="8" fill="#454545"/>
<rect x="521" y="249" width="1" height="6" fill="#a8a8a8"/>
<rect x="524" y="240" width="3" height="12" fill="#454545"/>
<rect x="525" y="241" width="1" height="10" fill="#a8a8a8"/>
<rect x="528" y="233" width="3" height="9" fill="#454545"/>
<rect x="529" y="234" width="1" height="7" fill="#a8a8a8"/>
<rect x="531" y="233" width="3" height="3" fill="#2e2e2e"/>
<rect x="535" y="230" width="3" height="6" fill="#454545"/>
<rect x="536" y="231" width="1" height="4" fill="#a8a8a8"/>
<rect x="539" y="221" width="3" height="9" fill="#454545"/>
<rect x="540" y="222" width="1" height="7" fill="#a8a8a8"/>
<rect x="543" y="221" width="3" height="2" fill="#2e2e2e"/>
<rect x="547" y="221" width="3" height="18" fill="#2e2e2e"/>
<rect x="550" y="234" width="3" height="5" fill="#454545"/>
<rect x="551" y="235" width="1" height="3" fill="#a8a8a8"/>
<rect x="554" y="233" width="3" height="11" fill="#2e2e2e"/>
<rect x="558" y="239" width="3" height="6" fill="#454545"/>
<rect x="559" y="240" width="1" height="4" fill="#a8a8a8"/>
<rect x="562" y="242" width="3" height="8" fill="#2e2e2e"/>
<rect x="566" y="249" width="3" height="9" fill="#2e2e2e"/>
<rect x="570" y="250" width="3" height="5" fill="#454545"/>
<rect x="571" y="251" width="1" height="3" fill="#a8a8a8"/>
<rect x="573" y="238" width="3" height="17" fill="#454545"/>
<rect x="574" y="239" width="1" height="15" fill="#a8a8a8"/>
<rect x="577" y="237" width="3" height="7" fill="#2e2e2e"/>
<rect x="581" y="223" width="3" height="22" fill="#454545"/>
<rect x="582" y="224" width="1" height="20" fill="#a8a8a8"/>
<rect x="585" y="215" width="3" height="7" fill="#454545"/>
<rect x="586" y="216" width="1" height="5" fill="#a8a8a8"/>
<rect x="589" y="215" width="3" height="3" fill="#2e2e2e"/>
<rect x="592" y="217" width="3" height="3" fill="#2e2e2e"/>
<rect x="596" y="204" width="3" height="15" fill="#454545"/>
<rect x="597" y="205" width="1" height="13" fill="#a8a8a8"/>
<rect x="600" y="200" width="3" height="6" fill="#454545"/>
<rect x="601" y="201" width="1" height="4" fill="#a8a8a8"/>
<rect x="604" y="184" width="3" height="16" fill="#454545"/>
<rect x="605" y="185" width="1" height="14" fill="#a8a8a8"/>
<rect x="608" y="185" width="3" height="15" fill="#2e2e2e"/>
<rect x="611" y="189" width="3" height="9" fill="#2e2e2e"/>
<rect x="615" y="186" width="3" height="4" fill="#454545"/>
<rect x="616" y="187" width="1" height="2" fill="#a8a8a8"/>
<rect x="619" y="193" width="3" height="12" fill="#2e2e2e"/>
<rect x="623" y="204" width="3" height="12" fill="#2e2e2e"/>
<rect x="627" y="213" width="3" height="5" fill="#2e2e2e"/>
<rect x="630" y="209" width="3" height="7" fill="#2e2e2e"/>
<rect x="634" y="201" width="3" height="8" fill="#454545"/>
<rect x="635" y="202" width="1" height="6" fill="#a8a8a8"/>
<rect x="638" y="189" width="3" height="10" fill="#454545"/>
<rect x="639" y="190" width="1" height="8" fill="#a8a8a8"/>
<rect x="642" y="188" width="3" height="3" fill="#2e2e2e"/>
<rect x="646" y="176" width="3" height="14" fill="#454545"/>
<rect x="647" y="177" width="1" height="12" fill="#a8a8a8"/>
<rect x="649" y="159" width="3" height="18" fill="#454545"/>
<rect x="650" y="160" width="1" height="16" fill="#a8a8a8"/>
<rect x="653" y="159" width="3" height="45" fill="#2e2e2e"/>
<rect x="657" y="206" width="3" height="3" fill="#2e2e2e"/>
<rect x="661" y="201" width="3" height="7" fill="#454545"/>
<rect x="662" y="202" width="1" height="5" fill="#a8a8a8"/>
<rect x="665" y="201" width="3" height="5" fill="#2e2e2e"/>
<rect x="668" y="204" width="3" height="5" fill="#2e2e2e"/>
<rect x="672" y="200" width="3" height="9" fill="#454545"/>
<rect x="673" y="201" width="1" height="7" fill="#a8a8a8"/>
<rect x="676" y="193" width="3" height="9" fill="#454545"/>
<rect x="677" y="194" width="1" height="7" fill="#a8a8a8"/>
<rect x="680" y="193" width="3" height="5" fill="#2e2e2e"/>
<rect x="684" y="198" width="3" height="8" fill="#2e2e2e"/>
<rect x="687" y="197" width="3" height="9" fill="#454545"/>
<rect x="688" y="198" width="1" height="7" fill="#a8a8a8"/>
<rect x="691" y="199" width="3" height="7" fill="#2e2e2e"/>
<rect x="695" y="198" width="3" height="11" fill="#454545"/>
<rect x="696" y="199" width="1" height="9" fill="#a8a8a8"/>
<rect x="699" y="198" width="3" height="4" fill="#2e2e2e"/>
<rect x="703" y="202" width="3" height="4" fill="#2e2e2e"/>
<rect x="706" y="191" width="3" height="15" fill="#454545"/>
<rect x="707" y="192" width="1" height="13" fill="#a8a8a8"/>
<rect x="710" y="191" width="3" height="20" fill="#2e2e2e"/>
<rect x="714" y="200" width="3" height="11" fill="#454545"/>
<rect x="715" y="201" width="1" height="9" fill="#a8a8a8"/>
<rect x="718" y="201" width="3" height="3" fill="#2e2e2e"/>
<rect x="722" y="204" width="3" height="1" fill="#2e2e2e"/>
<rect x="725" y="203" width="3" height="8" fill="#2e2e2e"/>
<rect x="729" y="209" width="3" height="1" fill="#454545"/>
<rect x="733" y="206" width="3" height="3" fill="#454545"/>
<rect x="734" y="207" width="1" height="1" fill="#a8a8a8"/>
<rect x="737" y="192" width="3" height="16" fill="#454545"/>
<rect x="738" y="193" width="1" height="14" fill="#a8a8a8"/>
<rect x="741" y="191" width="3" height="5" fill="#2e2e2e"/>
<rect x="744" y="190" width="3" height="6" fill="#454545"/>
<rect x="745" y="191" width="1" height="4" fill="#a8a8a8"/>
<rect x="748" y="190" width="3" height="14" fill="#2e2e2e"/>
<rect x="752" y="193" width="3" height="10" fill="#2e2e2e"/>
<rect x="756" y="203" width="3" height="1" fill="#2e2e2e"/>
<rect x="760" y="204" width="3" height="2" fill="#2e2e2e"/>
<rect x="763" y="203" width="3" height="5" fill="#2e2e2e"/>
<rect x="767" y="199" width="3" height="6" fill="#454545"/>
<rect x="768" y="200" width="1" height="4" fill="#a8a8a8"/>
<rect x="771" y="200" width="3" height="4" fill="#2e2e2e"/>
<rect x="775" y="204" width="3" height="13" fill="#2e2e2e"/>
<rect x="779" y="210" width="3" height="7" fill="#454545"/>
<rect x="780" y="211" width="1" height="5" fill="#a8a8a8"/>
<rect x="782" y="193" width="3" height="17" fill="#454545"/>
<rect x="783" y="194" width="1" height="15" fill="#a8a8a8"/>
<rect x="786" y="196" width="3" height="2" fill="#2e2e2e"/>
<rect x="790" y="197" width="3" height="2" fill="#2e2e2e"/>
<rect x="794" y="198" width="3" height="3" fill="#2e2e2e"/>
<rect x="798" y="184" width="3" height="17" fill="#454545"/>
<rect x="799" y="185" width="1" height="15" fill="#a8a8a8"/>
<rect x="801" y="172" width="3" height="14" fill="#454545"/>
<rect x="802" y="173" width="1" height="12" fill="#a8a8a8"/>
<rect x="805" y="172" width="3" height="5" fill="#2e2e2e"/>
<rect x="809" y="176" width="3" height="12" fill="#2e2e2e"/>
<rect x="813" y="185" width="3" height="14" fill="#2e2e2e"/>
<rect x="817" y="198" width="3" height="11" fill="#2e2e2e"/>
<rect x="820" y="206" width="3" height="3" fill="#454545"/>
<rect x="821" y="207" width="1" height="1" fill="#a8a8a8"/>
<rect x="824" y="203" width="3" height="4" fill="#454545"/>
<rect x="825" y="204" width="1" height="2" fill="#a8a8a8"/>
<rect x="828" y="166" width="3" height="12" fill="#454545"/>
<rect x="829" y="167" width="1" height="10" fill="#a8a8a8"/>
<rect x="832" y="164" width="3" height="2" fill="#454545"/>
<rect x="721.86" y="193.3" width="2.4" height="11" fill="#b5b5b5"/>
<rect x="375.3" y="156.5" width="7.7" height="1.8" fill="#3d64c8" fill-opacity="0.075"/>
<rect x="375.3" y="159.4" width="16.3" height="2.4" fill="#3d64c8" fill-opacity="0.075"/>
<rect x="375.3" y="163.4" width="3.3" height="1.0" fill="#3d64c8" fill-opacity="0.075"/>
<rect x="375.3" y="168.6" width="2.7" height="1.4" fill="#3d64c8" fill-opacity="0.075"/>
<rect x="375.3" y="177.0" width="6.2" height="1.0" fill="#3d64c8" fill-opacity="0.075"/>
<rect x="375.3" y="181.0" width="24.7" height="1.6" fill="#3d64c8" fill-opacity="0.075"/>
<rect x="375.3" y="184.6" width="52.3" height="1.6" fill="#3d64c8" fill-opacity="0.075"/>
<rect x="375.3" y="187.5" width="45.1" height="2.4" fill="#3d64c8" fill-opacity="0.075"/>
<rect x="375.3" y="191.8" width="49.5" height="2.4" fill="#3d64c8" fill-opacity="0.075"/>
<rect x="375.3" y="196.0" width="37.7" height="2.4" fill="#3d64c8" fill-opacity="0.075"/>
<rect x="375.3" y="200.4" width="42.2" height="2.4" fill="#3d64c8" fill-opacity="0.075"/>
<rect x="375.3" y="204.8" width="30.7" height="2.4" fill="#3d64c8" fill-opacity="0.075"/>
<rect x="375.3" y="208.4" width="42.2" height="2.4" fill="#3d64c8" fill-opacity="0.075"/>
<rect x="375.3" y="212.0" width="52.3" height="2.4" fill="#3d64c8" fill-opacity="0.075"/>
<rect x="375.3" y="268.6" width="45.1" height="2.4" fill="#3d64c8" fill-opacity="0.075"/>
<rect x="375.3" y="271.4" width="27.7" height="2.4" fill="#3d64c8" fill-opacity="0.075"/>
<rect x="375.3" y="274.2" width="27.7" height="1.2" fill="#3d64c8" fill-opacity="0.075"/>
<rect x="375.3" y="275.8" width="12.0" height="2.4" fill="#3d64c8" fill-opacity="0.075"/>
<rect x="375.3" y="278.6" width="12.0" height="1.2" fill="#3d64c8" fill-opacity="0.075"/>
<rect x="375.3" y="280.2" width="5.7" height="2.4" fill="#3d64c8" fill-opacity="0.075"/>
<rect x="375.3" y="283.0" width="5.7" height="2.4" fill="#3d64c8" fill-opacity="0.075"/>
<rect x="375.3" y="285.8" width="5.7" height="2.4" fill="#3d64c8" fill-opacity="0.075"/>
<rect x="375.3" y="288.6" width="5.7" height="1.4" fill="#3d64c8" fill-opacity="0.075"/>
<rect x="375.3" y="290.4" width="3.7" height="2.4" fill="#3d64c8" fill-opacity="0.075"/>
<rect x="375.3" y="293.2" width="3.7" height="2.4" fill="#3d64c8" fill-opacity="0.075"/>
<rect x="375.3" y="296.0" width="3.7" height="2.4" fill="#3d64c8" fill-opacity="0.075"/>
<rect x="375.3" y="298.8" width="3.7" height="1.2" fill="#3d64c8" fill-opacity="0.075"/>
<rect x="375.3" y="215.6" width="48.0" height="2.4" fill="#3d64c8" fill-opacity="0.24"/>
<rect x="375.3" y="219.0" width="49.7" height="2.4" fill="#3d64c8" fill-opacity="0.24"/>
<rect x="375.3" y="222.4" width="56.7" height="2.4" fill="#3d64c8" fill-opacity="0.24"/>
<rect x="375.3" y="225.4" width="64.7" height="2.4" fill="#3d64c8" fill-opacity="0.24"/>
<rect x="375.3" y="228.2" width="64.7" height="1.1" fill="#3d64c8" fill-opacity="0.24"/>
<rect x="375.3" y="230.0" width="86.7" height="2.4" fill="#3d64c8" fill-opacity="0.24"/>
<rect x="375.3" y="232.8" width="86.7" height="0.8" fill="#3d64c8" fill-opacity="0.24"/>
<rect x="375.3" y="234.4" width="120.1" height="2.4" fill="#3d64c8" fill-opacity="0.24"/>
<rect x="375.3" y="237.2" width="120.1" height="2.2" fill="#3d64c8" fill-opacity="0.24"/>
<rect x="375.3" y="239.8" width="95.7" height="2.4" fill="#3d64c8" fill-opacity="0.24"/>
<rect x="375.3" y="242.6" width="95.7" height="1.1" fill="#3d64c8" fill-opacity="0.24"/>
<rect x="375.3" y="244.0" width="83.7" height="2.4" fill="#3d64c8" fill-opacity="0.24"/>
<rect x="375.3" y="246.8" width="83.7" height="1.2" fill="#3d64c8" fill-opacity="0.24"/>
<rect x="375.3" y="248.4" width="81.2" height="2.4" fill="#3d64c8" fill-opacity="0.24"/>
<rect x="375.3" y="251.2" width="81.2" height="2.4" fill="#3d64c8" fill-opacity="0.24"/>
<rect x="375.3" y="254.2" width="77.7" height="2.4" fill="#3d64c8" fill-opacity="0.24"/>
<rect x="375.3" y="257.0" width="77.7" height="2.4" fill="#3d64c8" fill-opacity="0.24"/>
<rect x="375.3" y="260.0" width="83.7" height="2.4" fill="#3d64c8" fill-opacity="0.24"/>
<rect x="375.3" y="262.8" width="83.7" height="1.2" fill="#3d64c8" fill-opacity="0.24"/>
<rect x="375.3" y="264.4" width="75.4" height="2.4" fill="#3d64c8" fill-opacity="0.24"/>
<rect x="375.3" y="267.2" width="75.4" height="1.0" fill="#3d64c8" fill-opacity="0.24"/>
<line x1="375.3" y1="237.2" x2="495.4" y2="237.2" stroke="#7f9be0" stroke-width="0.8" stroke-opacity="0.8"/>
<g stroke="#cfcfcf" stroke-width="1.2">
<line x1="830" y1="142.8" x2="848" y2="142.8"/>
<line x1="830" y1="159.4" x2="848" y2="159.4"/>
<line x1="830" y1="181.7" x2="848" y2="181.7"/>
</g>
<g fill="#c4c4c4" font-size="9">
<text x="806.2" y="144.8" textLength="8.8" lengthAdjust="spacingAndGlyphs">R3</text><text x="806.2" y="161.6" textLength="8.8" lengthAdjust="spacingAndGlyphs">R2</text><text x="806.2" y="183.6" fill="#dcdcdc" textLength="8.6" lengthAdjust="spacingAndGlyphs">R1</text>
</g>
<g filter="url(#blur1)" opacity="0.55"><line x1="844" y1="175" x2="852" y2="150" stroke="#666" stroke-width="2.6"/></g>
<line x1="841.8" y1="172.5" x2="848.2" y2="152" stroke="#111" stroke-width="2.2"/>
<path d="M849.6 144.6 L844.6 152.2 L851.6 153.4 Z" fill="#111"/>
<rect x="923.5" y="148.0" width="38.0" height="7.2" fill="#fff"/>
<rect x="921.5" y="295.6" width="40.0" height="7.2" fill="#fff"/>
<rect x="933.5" y="305.0" width="28.0" height="7.2" fill="#fff"/>
<rect x="933.5" y="215.8" width="28.0" height="7.2" fill="#fff"/>
<rect x="933.5" y="226.0" width="28.0" height="7.2" fill="#fff"/>
<rect x="916" y="211.4" width="45.5" height="7.2" fill="#fff"/>
<rect x="945.5" y="247.9" width="16.0" height="7.2" fill="#fff"/>
<g font-size="7.2" fill="#9c9c9c" text-anchor="end">
<text x="960.3" y="154.2" textLength="34.6" lengthAdjust="spacingAndGlyphs">March high</text>
<text x="960.3" y="301.8" textLength="35.5" lengthAdjust="spacingAndGlyphs">Dec '23 low</text>
<text x="960.3" y="311.2" textLength="24.3" lengthAdjust="spacingAndGlyphs">Sep low</text>
<text x="960.3" y="222" textLength="25" lengthAdjust="spacingAndGlyphs">Aug low</text>
<text x="960.3" y="232.2" textLength="24.3" lengthAdjust="spacingAndGlyphs">Sep low</text>
<text x="960.3" y="217.6" fill="#abb6d8" textLength="42" lengthAdjust="spacingAndGlyphs">Weekly VPOC</text>
<text x="960.3" y="254.1" fill="#444" textLength="13" lengthAdjust="spacingAndGlyphs">HVN</text>
</g>
<g font-size="9.3" font-style="italic" fill="#4d5282" text-anchor="middle">
<text x="737.6" y="61.6" textLength="182" lengthAdjust="spacingAndGlyphs">USD/JPY bulls are on high alert for a bullish</text>
<text x="737.6" y="73.1" textLength="164.3" lengthAdjust="spacingAndGlyphs">breakout, though a sustained rally likely</text>
<text x="737.6" y="84.6" textLength="191.2" lengthAdjust="spacingAndGlyphs">requires confirmation that the new PM will have</text>
<text x="737.6" y="96.1" textLength="133.2" lengthAdjust="spacingAndGlyphs">sway over the BOJ's hiking path.</text>
</g>
<text x="801.35" y="326.8" font-size="9.3" font-style="italic" fill="#4d5282" text-anchor="middle" textLength="137.1" lengthAdjust="spacingAndGlyphs">Most bullish day in over 4 months</text>
</g>
<text x="12.8" y="32.8" font-size="9" fill="#575757" textLength="138.7" lengthAdjust="spacingAndGlyphs">U.S. Dollar / Japanese Yen · 1D · ICE</text>
<text x="158.2" y="32.8" font-size="9" fill="#575757" textLength="35.2" lengthAdjust="spacingAndGlyphs">O150.265</text>
<text x="199.2" y="32.8" font-size="9" fill="#575757" textLength="35.2" lengthAdjust="spacingAndGlyphs">H150.388</text>
<text x="239" y="32.8" font-size="9" fill="#575757" textLength="34.4" lengthAdjust="spacingAndGlyphs">L150.265</text>
<text x="278.5" y="32.8" font-size="9" fill="#575757" textLength="35.2" lengthAdjust="spacingAndGlyphs">C150.379</text>
<text x="318.4" y="32.8" font-size="9" fill="#575757" textLength="60.6" lengthAdjust="spacingAndGlyphs">+0.133 (+0.09%)</text>
<text x="12.9" y="44.8" font-size="9" fill="#575757" textLength="9.0" lengthAdjust="spacingAndGlyphs">KC</text>
<text x="28.7" y="44.8" font-size="9" fill="#d0d0d0" textLength="28.7" lengthAdjust="spacingAndGlyphs">150.418</text>
<text x="64" y="44.8" font-size="9" fill="#d0d0d0" textLength="28" lengthAdjust="spacingAndGlyphs">148.255</text>
<text x="99.1" y="44.8" font-size="9" fill="#d0d0d0" textLength="28.1" lengthAdjust="spacingAndGlyphs">146.092</text>
<text x="12.9" y="56.8" font-size="9" fill="#575757" textLength="22" lengthAdjust="spacingAndGlyphs">Pivots</text>
<line x1="8" y1="375.5" x2="964.5" y2="375.5" stroke="#8f8f8f" stroke-width="1"/>
<rect x="12" y="359" width="2" height="16" fill="#9c9c9c"/>
<rect x="15" y="366" width="2" height="9" fill="#9c9c9c"/>
<rect x="19" y="369" width="2" height="6" fill="#9c9c9c"/>
<rect x="23" y="373" width="2" height="2" fill="#9c9c9c"/>
<rect x="27" y="360" width="2" height="15" fill="#9c9c9c"/>
<rect x="31" y="370" width="2" height="5" fill="#9c9c9c"/>
<rect x="35" y="376" width="2" height="9" fill="#080808"/>
<rect x="38" y="358" width="2" height="17" fill="#9c9c9c"/>
<rect x="42" y="342" width="2" height="33" fill="#9c9c9c"/>
<rect x="46" y="376" width="2" height="13" fill="#080808"/>
<rect x="50" y="364" width="2" height="11" fill="#9c9c9c"/>
<rect x="54" y="376" width="2" height="1" fill="#080808"/>
<rect x="57" y="374" width="2" height="1" fill="#9c9c9c"/>
<rect x="61" y="366" width="2" height="9" fill="#9c9c9c"/>
<rect x="65" y="376" width="2" height="2" fill="#080808"/>
<rect x="69" y="376" width="2" height="12" fill="#080808"/>
<rect x="73" y="371" width="2" height="4" fill="#9c9c9c"/>
<rect x="76" y="374" width="2" height="1" fill="#9c9c9c"/>
<rect x="80" y="373" width="2" height="2" fill="#9c9c9c"/>
<rect x="84" y="376" width="2" height="5" fill="#080808"/>
<rect x="88" y="368" width="2" height="7" fill="#9c9c9c"/>
<rect x="92" y="369" width="2" height="6" fill="#9c9c9c"/>
<rect x="95" y="372" width="2" height="3" fill="#9c9c9c"/>
<rect x="99" y="376" width="2" height="3" fill="#080808"/>
<rect x="103" y="376" width="2" height="6" fill="#080808"/>
<rect x="107" y="376" width="2" height="2" fill="#080808"/>
<rect x="111" y="370" width="2" height="5" fill="#9c9c9c"/>
<rect x="114" y="376" width="2" height="18" fill="#080808"/>
<rect x="118" y="376" width="2" height="16" fill="#080808"/>
<rect x="122" y="361" width="2" height="14" fill="#9c9c9c"/>
<rect x="126" y="376" width="2" height="9" fill="#080808"/>
<rect x="130" y="376" width="2" height="1" fill="#080808"/>
<rect x="133" y="360" width="2" height="15" fill="#9c9c9c"/>
<rect x="137" y="376" width="2" height="8" fill="#080808"/>
<rect x="141" y="376" width="2" height="1" fill="#080808"/>
<rect x="145" y="376" width="2" height="18" fill="#080808"/>
<rect x="149" y="362" width="2" height="13" fill="#9c9c9c"/>
<rect x="152" y="376" width="2" height="4" fill="#080808"/>
<rect x="156" y="376" width="2" height="12" fill="#080808"/>
<rect x="160" y="363" width="2" height="12" fill="#9c9c9c"/>
<rect x="164" y="376" width="2" height="6" fill="#080808"/>
<rect x="168" y="376" width="2" height="5" fill="#080808"/>
<rect x="171" y="376" width="2" height="22" fill="#080808"/>
<rect x="175" y="376" width="2" height="14" fill="#080808"/>
<rect x="179" y="374" width="2" height="1" fill="#9c9c9c"/>
<rect x="183" y="366" width="2" height="9" fill="#9c9c9c"/>
<rect x="187" y="371" width="2" height="4" fill="#9c9c9c"/>
<rect x="190" y="346" width="2" height="29" fill="#9c9c9c"/>
<rect x="194" y="376" width="2" height="24" fill="#080808"/>
<rect x="198" y="376" width="2" height="7" fill="#080808"/>
<rect x="202" y="376" width="2" height="10" fill="#080808"/>
<rect x="206" y="366" width="2" height="9" fill="#9c9c9c"/>
<rect x="209" y="376" width="2" height="10" fill="#080808"/>
<rect x="213" y="376" width="2" height="23" fill="#080808"/>
<rect x="217" y="376" width="2" height="3" fill="#080808"/>
<rect x="221" y="370" width="2" height="5" fill="#9c9c9c"/>
<rect x="225" y="376" width="2" height="10" fill="#080808"/>
<rect x="228" y="373" width="2" height="2" fill="#9c9c9c"/>
<rect x="232" y="366" width="2" height="9" fill="#9c9c9c"/>
<rect x="236" y="365" width="2" height="10" fill="#9c9c9c"/>
<rect x="240" y="376" width="2" height="16" fill="#080808"/>
<rect x="244" y="370" width="2" height="5" fill="#9c9c9c"/>
<rect x="247" y="376" width="2" height="11" fill="#080808"/>
<rect x="251" y="376" width="2" height="12" fill="#080808"/>
<rect x="255" y="374" width="2" height="1" fill="#9c9c9c"/>
<rect x="259" y="376" width="2" height="11" fill="#080808"/>
<rect x="263" y="367" width="2" height="8" fill="#9c9c9c"/>
<rect x="266" y="369" width="2" height="6" fill="#9c9c9c"/>
<rect x="270" y="376" width="2" height="5" fill="#080808"/>
<rect x="274" y="363" width="2" height="12" fill="#9c9c9c"/>
<rect x="278" y="368" width="2" height="7" fill="#9c9c9c"/>
<rect x="282" y="376" width="2" height="1" fill="#080808"/>
<rect x="285" y="376" width="2" height="5" fill="#080808"/>
<rect x="289" y="373" width="2" height="2" fill="#9c9c9c"/>
<rect x="293" y="369" width="2" height="6" fill="#9c9c9c"/>
<rect x="297" y="357" width="2" height="18" fill="#9c9c9c"/>
<rect x="301" y="376" width="2" height="11" fill="#080808"/>
<rect x="304" y="366" width="2" height="9" fill="#9c9c9c"/>
<rect x="308" y="368" width="2" height="7" fill="#9c9c9c"/>
<rect x="312" y="376" width="2" height="16" fill="#080808"/>
<rect x="316" y="373" width="2" height="2" fill="#9c9c9c"/>
<rect x="320" y="376" width="2" height="4" fill="#080808"/>
<rect x="323" y="376" width="2" height="12" fill="#080808"/>
<rect x="327" y="376" width="2" height="36" fill="#080808"/>
<rect x="331" y="362" width="2" height="13" fill="#9c9c9c"/>
<rect x="335" y="364" width="2" height="11" fill="#9c9c9c"/>
<rect x="339" y="376" width="2" height="19" fill="#080808"/>
<rect x="342" y="361" width="2" height="14" fill="#9c9c9c"/>
<rect x="346" y="376" width="2" height="39" fill="#080808"/>
<rect x="350" y="376" width="2" height="13" fill="#080808"/>
<rect x="354" y="376" width="2" height="7" fill="#080808"/>
<rect x="358" y="372" width="2" height="3" fill="#9c9c9c"/>
<rect x="361" y="376" width="2" height="19" fill="#080808"/>
<rect x="365" y="366" width="2" height="9" fill="#9c9c9c"/>
<rect x="369" y="376" width="2" height="4" fill="#080808"/>
<rect x="373" y="376" width="2" height="18" fill="#080808"/>
<rect x="377" y="351" width="2" height="24" fill="#9c9c9c"/>
<rect x="380" y="367" width="2" height="8" fill="#9c9c9c"/>
<rect x="384" y="376" width="2" height="7" fill="#080808"/>
<rect x="388" y="362" width="2" height="13" fill="#9c9c9c"/>
<rect x="392" y="376" width="2" height="21" fill="#080808"/>
<rect x="396" y="372" width="2" height="3" fill="#9c9c9c"/>
<rect x="399" y="366" width="2" height="9" fill="#9c9c9c"/>
<rect x="403" y="344" width="2" height="31" fill="#9c9c9c"/>
<rect x="407" y="376" width="2" height="5" fill="#080808"/>
<rect x="411" y="376" width="2" height="16" fill="#080808"/>
<rect x="415" y="376" width="2" height="17" fill="#080808"/>
<rect x="418" y="355" width="2" height="20" fill="#9c9c9c"/>
<rect x="422" y="346" width="2" height="29" fill="#9c9c9c"/>
<rect x="426" y="376" width="2" height="10" fill="#080808"/>
<rect x="430" y="335" width="2" height="40" fill="#9c9c9c"/>
<rect x="434" y="376" width="2" height="12" fill="#080808"/>
<rect x="437" y="376" width="2" height="11" fill="#080808"/>
<rect x="441" y="376" width="2" height="13" fill="#080808"/>
<rect x="445" y="376" width="2" height="2" fill="#080808"/>
<rect x="449" y="376" width="2" height="8" fill="#080808"/>
<rect x="453" y="376" width="2" height="5" fill="#080808"/>
<rect x="456" y="376" width="2" height="12" fill="#080808"/>
<rect x="460" y="369" width="2" height="6" fill="#9c9c9c"/>
<rect x="464" y="376" width="2" height="21" fill="#080808"/>
<rect x="468" y="372" width="2" height="3" fill="#9c9c9c"/>
<rect x="472" y="353" width="2" height="22" fill="#9c9c9c"/>
<rect x="475" y="366" width="2" height="9" fill="#9c9c9c"/>
<rect x="479" y="376" width="2" height="11" fill="#080808"/>
<rect x="483" y="376" width="2" height="6" fill="#080808"/>
<rect x="487" y="376" width="2" height="16" fill="#080808"/>
<rect x="491" y="357" width="2" height="18" fill="#9c9c9c"/>
<rect x="494" y="376" width="2" height="17" fill="#080808"/>
<rect x="498" y="359" width="2" height="16" fill="#9c9c9c"/>
<rect x="502" y="364" width="2" height="11" fill="#9c9c9c"/>
<rect x="506" y="376" width="2" height="4" fill="#080808"/>
<rect x="510" y="370" width="2" height="5" fill="#9c9c9c"/>
<rect x="513" y="376" width="2" height="4" fill="#080808"/>
<rect x="517" y="376" width="2" height="15" fill="#080808"/>
<rect x="521" y="367" width="2" height="8" fill="#9c9c9c"/>
<rect x="525" y="366" width="2" height="9" fill="#9c9c9c"/>
<rect x="529" y="368" width="2" height="7" fill="#9c9c9c"/>
<rect x="532" y="376" width="2" height="3" fill="#080808"/>
<rect x="536" y="369" width="2" height="6" fill="#9c9c9c"/>
<rect x="540" y="367" width="2" height="8" fill="#9c9c9c"/>
<rect x="544" y="376" width="2" height="1" fill="#080808"/>
<rect x="548" y="376" width="2" height="16" fill="#080808"/>
<rect x="551" y="370" width="2" height="5" fill="#9c9c9c"/>
<rect x="555" y="376" width="2" height="11" fill="#080808"/>
<rect x="559" y="370" width="2" height="5" fill="#9c9c9c"/>
<rect x="563" y="376" width="2" height="11" fill="#080808"/>
<rect x="567" y="376" width="2" height="8" fill="#080808"/>
<rect x="571" y="367" width="2" height="8" fill="#9c9c9c"/>
<rect x="574" y="363" width="2" height="12" fill="#9c9c9c"/>
<rect x="578" y="376" width="2" height="6" fill="#080808"/>
<rect x="582" y="354" width="2" height="21" fill="#9c9c9c"/>
<rect x="586" y="367" width="2" height="8" fill="#9c9c9c"/>
<rect x="590" y="376" width="2" height="3" fill="#080808"/>
<rect x="593" y="376" width="2" height="2" fill="#080808"/>
<rect x="597" y="359" width="2" height="16" fill="#9c9c9c"/>
<rect x="601" y="371" width="2" height="4" fill="#9c9c9c"/>
<rect x="605" y="359" width="2" height="16" fill="#9c9c9c"/>
<rect x="609" y="376" width="2" height="15" fill="#080808"/>
<rect x="612" y="373" width="2" height="2" fill="#9c9c9c"/>
<rect x="616" y="363" width="2" height="12" fill="#9c9c9c"/>
<rect x="620" y="376" width="2" height="19" fill="#080808"/>
<rect x="624" y="376" width="2" height="11" fill="#080808"/>
<rect x="628" y="376" width="2" height="3" fill="#080808"/>
<rect x="631" y="373" width="2" height="2" fill="#9c9c9c"/>
<rect x="635" y="360" width="2" height="15" fill="#9c9c9c"/>
<rect x="639" y="363" width="2" height="12" fill="#9c9c9c"/>
<rect x="643" y="376" width="2" height="2" fill="#080808"/>
<rect x="647" y="361" width="2" height="14" fill="#9c9c9c"/>
<rect x="650" y="358" width="2" height="17" fill="#9c9c9c"/>
<rect x="654" y="376" width="2" height="44" fill="#080808"/>
<rect x="658" y="376" width="2" height="5" fill="#080808"/>
<rect x="662" y="368" width="2" height="7" fill="#9c9c9c"/>
<rect x="666" y="376" width="2" height="4" fill="#080808"/>
<rect x="669" y="376" width="2" height="3" fill="#080808"/>
<rect x="673" y="367" width="2" height="8" fill="#9c9c9c"/>
<rect x="677" y="368" width="2" height="7" fill="#9c9c9c"/>
<rect x="681" y="376" width="2" height="5" fill="#080808"/>
<rect x="685" y="376" width="2" height="8" fill="#080808"/>
<rect x="688" y="367" width="2" height="8" fill="#9c9c9c"/>
<rect x="692" y="376" width="2" height="9" fill="#080808"/>
<rect x="696" y="367" width="2" height="8" fill="#9c9c9c"/>
<rect x="700" y="376" width="2" height="4" fill="#080808"/>
<rect x="704" y="376" width="2" height="4" fill="#080808"/>
<rect x="707" y="361" width="2" height="14" fill="#9c9c9c"/>
<rect x="711" y="376" width="2" height="19" fill="#080808"/>
<rect x="715" y="364" width="2" height="11" fill="#9c9c9c"/>
<rect x="719" y="376" width="2" height="4" fill="#080808"/>
<rect x="723" y="376" width="2" height="1" fill="#080808"/>
<rect x="726" y="376" width="2" height="7" fill="#080808"/>
<rect x="730" y="373" width="2" height="2" fill="#9c9c9c"/>
<rect x="734" y="372" width="2" height="3" fill="#9c9c9c"/>
<rect x="738" y="361" width="2" height="14" fill="#9c9c9c"/>
<rect x="742" y="376" width="2" height="5" fill="#080808"/>
<rect x="745" y="368" width="2" height="7" fill="#9c9c9c"/>
<rect x="749" y="376" width="2" height="14" fill="#080808"/>
<rect x="753" y="374" width="2" height="1" fill="#9c9c9c"/>
<rect x="757" y="376" width="2" height="1" fill="#080808"/>
<rect x="761" y="376" width="2" height="1" fill="#080808"/>
<rect x="764" y="376" width="2" height="2" fill="#080808"/>
<rect x="768" y="366" width="2" height="9" fill="#9c9c9c"/>
<rect x="772" y="376" width="2" height="5" fill="#080808"/>
<rect x="776" y="376" width="2" height="13" fill="#080808"/>
<rect x="780" y="367" width="2" height="8" fill="#9c9c9c"/>
<rect x="783" y="358" width="2" height="17" fill="#9c9c9c"/>
<rect x="787" y="376" width="2" height="5" fill="#080808"/>
<rect x="791" y="376" width="2" height="1" fill="#080808"/>
<rect x="795" y="376" width="2" height="2" fill="#080808"/>
<rect x="799" y="358" width="2" height="17" fill="#9c9c9c"/>
<rect x="802" y="362" width="2" height="13" fill="#9c9c9c"/>
<rect x="806" y="376" width="2" height="5" fill="#080808"/>
<rect x="810" y="376" width="2" height="11" fill="#080808"/>
<rect x="814" y="376" width="2" height="10" fill="#080808"/>
<rect x="818" y="376" width="2" height="10" fill="#080808"/>
<rect x="821" y="372" width="2" height="3" fill="#9c9c9c"/>
<rect x="825" y="372" width="2" height="3" fill="#9c9c9c"/>
<rect x="829" y="339" width="2" height="36" fill="#9c9c9c"/>
<rect x="833" y="373" width="2" height="2" fill="#9c9c9c"/>
<text x="12.7" y="344.4" font-size="9" fill="#575757" textLength="95.7" lengthAdjust="spacingAndGlyphs">Percent change bar chart</text>
<text x="114.5" y="344.4" font-size="9" fill="#575757" textLength="16.5" lengthAdjust="spacingAndGlyphs">0.09</text>
<rect x="26" y="488.8" width="3" height="1.5" fill="#2f8f3a" fill-opacity="0.6"/>
<rect x="30" y="487.5" width="3" height="2.8" fill="#2f8f3a" fill-opacity="1"/>
<rect x="53" y="489.3" width="3" height="1.0" fill="#2f8f3a" fill-opacity="0.6"/>
<rect x="60" y="489.3" width="3" height="1.0" fill="#2f8f3a" fill-opacity="0.6"/>
<rect x="68" y="484.3" width="3" height="6.0" fill="#e0353b" fill-opacity="1"/>
<rect x="75" y="489.3" width="3" height="1.0" fill="#2f8f3a" fill-opacity="0.6"/>
<rect x="91" y="487.3" width="3" height="3.0" fill="#2f8f3a" fill-opacity="1"/>
<rect x="102" y="487.8" width="3" height="2.5" fill="#e0353b" fill-opacity="1"/>
<rect x="117" y="489.3" width="3" height="1.0" fill="#e0353b" fill-opacity="0.6"/>
<rect x="144" y="480.8" width="3" height="9.5" fill="#e0353b" fill-opacity="1"/>
<rect x="170" y="489.3" width="3" height="1.0" fill="#e0353b" fill-opacity="0.6"/>
<rect x="189" y="487.8" width="3" height="2.5" fill="#2f8f3a" fill-opacity="1"/>
<rect x="201" y="484.8" width="3" height="5.5" fill="#e0353b" fill-opacity="1"/>
<rect x="212" y="488.3" width="3" height="2.0" fill="#e0353b" fill-opacity="1"/>
<rect x="231" y="489.3" width="3" height="1.0" fill="#2f8f3a" fill-opacity="0.6"/>
<rect x="235" y="489.3" width="3" height="1.0" fill="#2f8f3a" fill-opacity="0.6"/>
<rect x="250" y="488.3" width="3" height="2.0" fill="#e0353b" fill-opacity="1"/>
<rect x="258" y="485.3" width="3" height="5.0" fill="#e0353b" fill-opacity="1"/>
<rect x="277" y="487.3" width="3" height="3.0" fill="#2f8f3a" fill-opacity="1"/>
<rect x="296" y="488.3" width="3" height="2.0" fill="#2f8f3a" fill-opacity="1"/>
<rect x="322" y="489.3" width="3" height="1.0" fill="#e0353b" fill-opacity="0.6"/>
<rect x="349" y="489.3" width="3" height="1.0" fill="#e0353b" fill-opacity="0.6"/>
<rect x="372" y="487.8" width="3" height="2.5" fill="#e0353b" fill-opacity="1"/>
<rect x="398" y="489.3" width="3" height="1.0" fill="#2f8f3a" fill-opacity="0.6"/>
<rect x="414" y="489.3" width="3" height="1.0" fill="#e0353b" fill-opacity="0.6"/>
<rect x="421" y="489.3" width="3" height="1.0" fill="#2f8f3a" fill-opacity="0.6"/>
<rect x="448" y="486.3" width="3" height="4.0" fill="#e0353b" fill-opacity="1"/>
<rect x="452" y="488.8" width="3" height="1.5" fill="#e0353b" fill-opacity="0.6"/>
<rect x="482" y="489.3" width="3" height="1.0" fill="#e0353b" fill-opacity="0.6"/>
<rect x="501" y="489.3" width="3" height="1.0" fill="#2f8f3a" fill-opacity="0.6"/>
<rect x="566" y="489.3" width="3" height="1.0" fill="#e0353b" fill-opacity="0.6"/>
<rect x="585" y="488.3" width="3" height="2.0" fill="#2f8f3a" fill-opacity="1"/>
<rect x="619" y="479.8" width="3" height="10.5" fill="#e0353b" fill-opacity="1"/>
<rect x="623" y="489.3" width="3" height="1.0" fill="#e0353b" fill-opacity="0.6"/>
<rect x="627" y="489.3" width="3" height="1.0" fill="#e0353b" fill-opacity="0.6"/>
<rect x="638" y="485.3" width="3" height="5.0" fill="#2f8f3a" fill-opacity="1"/>
<rect x="657" y="485.8" width="3" height="4.5" fill="#e0353b" fill-opacity="1"/>
<rect x="733" y="487.3" width="3" height="3.0" fill="#2f8f3a" fill-opacity="1"/>
<rect x="756" y="489.3" width="3" height="1.0" fill="#e0353b" fill-opacity="0.6"/>
<rect x="760" y="489.3" width="3" height="1.0" fill="#e0353b" fill-opacity="0.6"/>
<rect x="775" y="489.3" width="3" height="1.0" fill="#e0353b" fill-opacity="0.6"/>
<rect x="782" y="489.3" width="3" height="1.0" fill="#2f8f3a" fill-opacity="0.6"/>
<rect x="790" y="489.3" width="3" height="1.0" fill="#e0353b" fill-opacity="0.6"/>
<rect x="813" y="489.3" width="3" height="1.0" fill="#e0353b" fill-opacity="0.6"/>
<rect x="828" y="427.8" width="3" height="62.5" fill="#2f8f3a" fill-opacity="1"/>
<rect x="832" y="489.5" width="3" height="0.8" fill="#2f8f3a" fill-opacity="0.6"/>
<text x="12.7" y="437.6" font-size="9" fill="#575757" textLength="15.1" lengthAdjust="spacingAndGlyphs">Gap</text>
<text x="32.8" y="437.6" font-size="9" fill="#2e9a3a" textLength="43" lengthAdjust="spacingAndGlyphs">0.01900000</text>
<g font-size="9.1" font-style="italic" fill="#4d5282" text-anchor="middle">
<text x="766.1" y="436.6" textLength="104.7" lengthAdjust="spacingAndGlyphs">The 196-pip daily gap was</text><text x="766" y="447.6" textLength="99.2" lengthAdjust="spacingAndGlyphs">its strongest since 1990</text>
</g>
<line x1="964.5" y1="19.5" x2="964.5" y2="512" stroke="#666" stroke-width="1"/>
<line x1="7.5" y1="494.2" x2="1016.5" y2="494.2" stroke="#555" stroke-width="1.2"/>
<text x="970.7" y="38.1" font-size="7.6" fill="#5e5e5e" textLength="24.2" lengthAdjust="spacingAndGlyphs">160.000</text>
<text x="970.7" y="64.8" font-size="7.6" fill="#5e5e5e" textLength="24.2" lengthAdjust="spacingAndGlyphs">158.000</text>
<text x="970.7" y="91.5" font-size="7.6" fill="#5e5e5e" textLength="24.2" lengthAdjust="spacingAndGlyphs">156.000</text>
<text x="970.7" y="118.2" font-size="7.6" fill="#5e5e5e" textLength="24.2" lengthAdjust="spacingAndGlyphs">154.000</text>
<text x="970.7" y="172.0" font-size="7.6" fill="#5e5e5e" textLength="24.2" lengthAdjust="spacingAndGlyphs">150.000</text>
<rect x="965.0" y="100.3" width="34.0" height="10" fill="#a3a3a3"/>
<text x="970.7" y="108.0" font-size="7.6" fill="#2a2a2a" textLength="24.2" lengthAdjust="spacingAndGlyphs">154.804</text>
<rect x="965.0" y="129.5" width="34.0" height="20" fill="#a3a3a3"/>
<rect x="965.0" y="129.5" width="34.0" height="10" fill="#a3a3a3"/>
<text x="970.7" y="137.2" font-size="7.6" fill="#2a2a2a" textLength="24.2" lengthAdjust="spacingAndGlyphs">151.303</text>
<rect x="965.0" y="139.5" width="34.0" height="10" fill="#a3a3a3"/>
<text x="970.7" y="147.2" font-size="7.6" fill="#2a2a2a" textLength="24.2" lengthAdjust="spacingAndGlyphs">150.919</text>
<rect x="965.0" y="149.6" width="34.0" height="10" fill="#e2e2e2"/>
<text x="970.7" y="157.3" font-size="7.6" fill="#2a2a2a" textLength="24.2" lengthAdjust="spacingAndGlyphs">150.418</text>
<rect x="965.0" y="159.4" width="34.0" height="10" fill="#000"/>
<text x="970.7" y="167.1" font-size="7.6" fill="#fff" font-weight="bold" textLength="24.2" lengthAdjust="spacingAndGlyphs">150.379</text>
<rect x="965.0" y="187.4" width="34.0" height="10" fill="#e2e2e2"/>
<text x="970.7" y="195.1" font-size="7.6" fill="#2a2a2a" textLength="24.2" lengthAdjust="spacingAndGlyphs">148.255</text>
<rect x="965.0" y="210.3" width="34.0" height="10" fill="#1b3f99"/>
<text x="970.7" y="218.0" font-size="7.6" fill="#fff" font-weight="bold" textLength="24.2" lengthAdjust="spacingAndGlyphs">146.528</text>
<rect x="965.0" y="220.8" width="34.0" height="10" fill="#a8a8a8"/>
<text x="970.7" y="228.5" font-size="7.6" fill="#2a2a2a" textLength="24.2" lengthAdjust="spacingAndGlyphs">146.208</text>
<rect x="965.0" y="230.8" width="34.0" height="10" fill="#e4e4e4"/>
<text x="970.7" y="238.5" font-size="7.6" fill="#2a2a2a" textLength="24.2" lengthAdjust="spacingAndGlyphs">146.092</text>
<rect x="965.0" y="240.5" width="34.0" height="10" fill="#a8a8a8"/>
<text x="970.7" y="248.2" font-size="7.6" fill="#2a2a2a" textLength="24.2" lengthAdjust="spacingAndGlyphs">145.757</text>
<rect x="965.0" y="250.4" width="34.0" height="10" fill="#a8a8a8"/>
<text x="970.7" y="258.1" font-size="7.6" fill="#2a2a2a" textLength="24.2" lengthAdjust="spacingAndGlyphs">145.485</text>
<rect x="965.0" y="260.6" width="34.0" height="20" fill="#000"/>
<rect x="965.0" y="260.6" width="34.0" height="10" fill="#000"/>
<text x="970.7" y="268.3" font-size="7.6" fill="#fff" font-weight="bold" textLength="24.2" lengthAdjust="spacingAndGlyphs">144.000</text>
<rect x="965.0" y="270.5" width="34.0" height="10" fill="#000"/>
<text x="970.7" y="278.2" font-size="7.6" fill="#fff" font-weight="bold" textLength="24.2" lengthAdjust="spacingAndGlyphs">143.824</text>
<rect x="965.0" y="294" width="34.0" height="19.6" fill="#a8a8a8"/>
<rect x="965.0" y="294.1" width="34.0" height="10" fill="#a8a8a8"/>
<text x="970.7" y="301.8" font-size="7.6" fill="#2a2a2a" textLength="24.2" lengthAdjust="spacingAndGlyphs">140.255</text>
<rect x="965.0" y="303.7" width="34.0" height="10" fill="#a8a8a8"/>
<text x="970.7" y="311.4" font-size="7.6" fill="#2a2a2a" textLength="24.2" lengthAdjust="spacingAndGlyphs">139.583</text>
<text x="970.5" y="339.0" font-size="7.6" fill="#5e5e5e" textLength="13.6" lengthAdjust="spacingAndGlyphs">2.00</text>
<text x="970.5" y="357.9" font-size="7.6" fill="#5e5e5e" textLength="13.6" lengthAdjust="spacingAndGlyphs">1.00</text>
<text x="970.5" y="397.6" font-size="7.6" fill="#5e5e5e" textLength="17.2" lengthAdjust="spacingAndGlyphs">−1.00</text>
<text x="970.5" y="416.5" font-size="7.6" fill="#5e5e5e" textLength="17.2" lengthAdjust="spacingAndGlyphs">−2.00</text>
<rect x="965.0" y="368.5" width="22.3" height="10" fill="#555"/>
<text x="970.2" y="376.1" font-size="7.6" fill="#fff" font-weight="bold">0.09</text>
<text x="970.7" y="429.5" font-size="7.6" fill="#5e5e5e" textLength="35.8" lengthAdjust="spacingAndGlyphs">2.00000000</text>
<text x="970.7" y="460.7" font-size="7.6" fill="#5e5e5e" textLength="35.8" lengthAdjust="spacingAndGlyphs">1.00000000</text>
<rect x="965.0" y="484.2" width="44.6" height="10" fill="#178a1f"/>
<text x="970.2" y="491.8" font-size="7.6" fill="#fff" font-weight="bold" textLength="35.8" lengthAdjust="spacingAndGlyphs">0.01900000</text>
<text x="76.8" y="505.6" font-size="7.6" fill="#5e5e5e" text-anchor="middle">2025</text>
<text x="164.3" y="505.6" font-size="7.6" fill="#5e5e5e" text-anchor="middle">Feb</text>
<text x="240.3" y="505.6" font-size="7.6" fill="#5e5e5e" text-anchor="middle">Mar</text>
<text x="320.1" y="505.6" font-size="7.6" fill="#5e5e5e" text-anchor="middle">Apr</text>
<text x="403.7" y="505.6" font-size="7.6" fill="#5e5e5e" text-anchor="middle">May</text>
<text x="487.4" y="505.6" font-size="7.6" fill="#5e5e5e" text-anchor="middle">Jun</text>
<text x="567.2" y="505.6" font-size="7.6" fill="#5e5e5e" text-anchor="middle">Jul</text>
<text x="654.6" y="505.6" font-size="7.6" fill="#5e5e5e" text-anchor="middle">Aug</text>
<text x="734.5" y="505.6" font-size="7.6" fill="#5e5e5e" text-anchor="middle">Sep</text>
<text x="818.1" y="505.6" font-size="7.6" fill="#5e5e5e" text-anchor="middle">Oct</text>
<text x="905.5" y="505.6" font-size="7.6" fill="#5e5e5e" text-anchor="middle">Nov</text>
<g fill="#131313">
<path d="M8.6 528 H16.9 V538.5 H12.9 V531.7 H8.6 Z"/>
<circle cx="20.4" cy="530" r="1.95"/>
<path d="M24.8 528 H29.2 L25.2 538.5 H20.9 Z"/>
</g>
<text x="35" y="538.9" font-size="14.8" font-weight="bold" fill="#131313" textLength="85" lengthAdjust="spacingAndGlyphs">TradingView</text>
</svg></body></html>
